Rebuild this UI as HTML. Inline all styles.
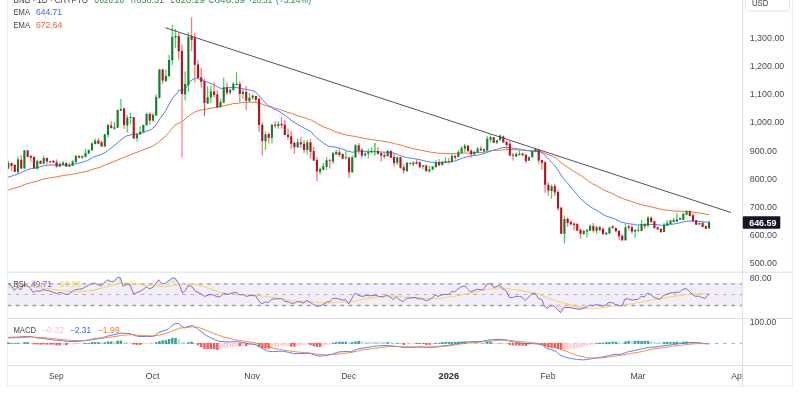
<!DOCTYPE html>
<html><head><meta charset="utf-8"><title>BNB chart</title>
<style>html,body{margin:0;padding:0;background:#fff;width:800px;height:400px;overflow:hidden}</style>
</head><body>
<svg width="800" height="400" viewBox="0 0 800 400" style="position:absolute;left:0;top:0;filter:blur(0.3px);font-family:'Liberation Sans',sans-serif">
<rect x="0" y="0" width="800" height="400" fill="#fff"/>
<rect x="8" y="283.2" width="734.5" height="23" fill="#f1eefa"/>
<path d="M7.5,0V386.5" stroke="#ebecf1" stroke-width="1" fill="none"/>
<path d="M7.5,386H792.5" stroke="#ebecf1" stroke-width="1" fill="none"/>
<path d="M792.3,0V386.5" stroke="#ebecf1" stroke-width="1" fill="none"/>
<path d="M742.6,0V386" stroke="#dcdfeb" stroke-width="1" fill="none"/>
<path d="M8,272.2H792" stroke="#dcdfeb" stroke-width="1" fill="none"/>
<path d="M8,318.5H792" stroke="#dcdfeb" stroke-width="1" fill="none"/>
<path d="M8,365.5H792" stroke="#dcdfeb" stroke-width="1" fill="none"/>
<path d="M8,283.9H742" stroke="#9a9aa0" stroke-width="1.4" stroke-dasharray="3.6 4.72" stroke-dashoffset="0.45" fill="none"/>
<path d="M8,294.5H742" stroke="#b0b0b6" stroke-width="1.0" stroke-dasharray="3.6 4.72" stroke-dashoffset="0.45" fill="none"/>
<path d="M8,305.5H742" stroke="#9a9aa0" stroke-width="1.4" stroke-dasharray="3.6 4.72" stroke-dashoffset="0.45" fill="none"/>
<path d="M8,343.4H742" stroke="#a5a5aa" stroke-width="0.9" stroke-dasharray="3.6 4.72" stroke-dashoffset="0.45" fill="none"/>
<path d="M91.50,283.9 L91.50,283.79 L91.75,283.67 L92.00,283.58 L92.25,283.52 L92.50,283.46 L92.75,283.40 L93.00,283.34 L93.25,283.28 L93.50,283.22 L93.75,283.16 L94.00,283.10 L94.25,283.04 L94.50,283.04 L94.75,283.15 L95.00,283.26 L95.25,283.37 L95.50,283.48 L95.75,283.59 L96.00,283.70 L96.25,283.81 L96.25,283.9Z" fill="#dcf1de"/>
<path d="M103.50,283.9 L103.50,283.75 L103.75,283.50 L104.00,283.25 L104.25,283.00 L104.50,282.75 L104.75,282.50 L105.00,282.25 L105.25,282.00 L105.50,281.75 L105.75,281.50 L106.00,281.25 L106.25,281.00 L106.50,280.75 L106.75,280.50 L107.00,280.25 L107.25,280.00 L107.50,279.75 L107.75,279.88 L108.00,280.02 L108.25,280.15 L108.50,280.28 L108.75,280.42 L109.00,280.55 L109.25,280.68 L109.50,280.81 L109.75,280.95 L110.00,281.08 L110.25,281.21 L110.50,281.35 L110.75,281.40 L111.00,281.40 L111.25,281.40 L111.50,281.40 L111.75,281.40 L112.00,281.40 L112.25,281.40 L112.50,281.40 L112.75,281.40 L113.00,281.40 L113.25,281.40 L113.50,281.40 L113.75,281.40 L114.00,281.13 L114.25,280.86 L114.50,280.59 L114.75,280.31 L115.00,280.04 L115.25,279.77 L115.50,279.50 L115.75,279.23 L116.00,278.96 L116.25,278.69 L116.50,278.41 L116.75,278.14 L117.00,277.87 L117.25,277.60 L117.50,277.57 L117.75,277.54 L118.00,277.50 L118.25,277.47 L118.50,277.44 L118.75,277.41 L119.00,277.38 L119.25,277.35 L119.50,277.31 L119.75,277.28 L120.00,277.25 L120.25,277.99 L120.50,278.73 L120.75,279.46 L121.00,280.20 L121.25,280.94 L121.50,281.68 L121.75,282.42 L122.00,283.15 L122.25,283.89 L122.25,283.9Z" fill="#dcf1de"/>
<path d="M155.75,283.9 L155.75,283.73 L156.00,283.40 L156.25,283.07 L156.50,282.74 L156.75,282.40 L157.00,282.07 L157.25,281.74 L157.50,281.41 L157.75,281.08 L158.00,280.75 L158.25,280.41 L158.50,280.08 L158.75,279.75 L159.00,280.08 L159.25,280.41 L159.50,280.74 L159.75,281.07 L160.00,281.40 L160.25,281.73 L160.50,282.06 L160.75,282.38 L161.00,282.71 L161.25,283.04 L161.50,283.37 L161.75,283.70 L162.00,283.88 L162.25,283.81 L162.50,283.75 L162.75,283.69 L163.00,283.63 L163.25,283.57 L163.50,283.51 L163.75,283.45 L164.00,283.39 L164.25,283.33 L164.50,283.27 L164.75,283.21 L165.00,283.15 L165.25,283.09 L165.50,283.02 L165.75,282.89 L166.00,282.70 L166.25,282.51 L166.50,282.32 L166.75,282.13 L167.00,281.94 L167.25,281.76 L167.50,281.57 L167.75,281.38 L168.00,281.19 L168.25,281.00 L168.50,280.81 L168.75,280.62 L169.00,280.44 L169.25,280.25 L169.50,280.06 L169.75,279.87 L170.00,279.68 L170.25,279.49 L170.50,279.31 L170.75,279.12 L171.00,278.93 L171.25,278.74 L171.50,278.55 L171.75,278.36 L172.00,278.24 L172.25,278.22 L172.50,278.20 L172.75,278.18 L173.00,278.16 L173.25,278.14 L173.50,278.12 L173.75,278.10 L174.00,278.08 L174.25,278.06 L174.50,278.04 L174.75,278.02 L175.00,278.00 L175.25,278.37 L175.50,278.74 L175.75,279.11 L176.00,279.48 L176.25,279.84 L176.50,280.21 L176.75,280.58 L177.00,280.95 L177.25,281.32 L177.50,281.69 L177.75,282.06 L178.00,282.42 L178.25,282.79 L178.50,283.16 L178.75,283.53 L178.75,283.9Z" fill="#dcf1de"/>
<path d="M488.75,283.9 L488.75,283.88 L489.00,283.82 L489.25,283.77 L489.50,283.72 L489.75,283.67 L490.00,283.62 L490.25,283.57 L490.50,283.52 L490.75,283.70 L490.75,283.9Z" fill="#dcf1de"/>
<path d="M315.50,305.5 L315.50,305.61 L315.75,305.75 L316.00,305.89 L316.25,306.03 L316.50,306.17 L316.75,306.32 L317.00,306.38 L317.25,306.33 L317.50,306.27 L317.75,306.22 L318.00,306.17 L318.25,306.12 L318.50,306.06 L318.75,306.01 L319.00,305.96 L319.25,305.91 L319.50,305.85 L319.75,305.80 L320.00,305.75 L320.25,305.67 L320.50,305.59 L320.75,305.51 L320.75,305.5Z" fill="#fcdcde"/>
<path d="M544.25,305.5 L544.25,305.99 L544.50,306.47 L544.75,306.64 L545.00,306.81 L545.25,306.98 L545.50,307.15 L545.75,307.31 L546.00,307.48 L546.25,307.65 L546.50,307.82 L546.75,307.99 L547.00,308.16 L547.25,308.33 L547.50,308.50 L547.75,308.26 L548.00,308.02 L548.25,307.77 L548.50,307.53 L548.75,307.29 L549.00,307.05 L549.25,306.81 L549.50,306.56 L549.75,306.32 L550.00,306.08 L550.25,305.84 L550.50,305.60 L550.75,305.52 L551.00,305.56 L551.25,305.60 L551.50,305.64 L551.75,305.68 L552.00,305.72 L552.25,305.76 L552.50,305.80 L552.75,305.84 L553.00,305.88 L553.25,305.92 L553.50,305.96 L553.75,306.00 L554.00,306.23 L554.25,306.47 L554.50,306.70 L554.75,306.93 L555.00,307.17 L555.25,307.40 L555.50,307.63 L555.75,307.87 L556.00,308.10 L556.25,308.33 L556.50,308.57 L556.75,308.80 L557.00,309.03 L557.25,309.27 L557.50,309.50 L557.75,309.75 L558.00,310.00 L558.25,310.25 L558.50,310.50 L558.75,310.75 L559.00,311.00 L559.25,311.25 L559.50,311.50 L559.75,311.75 L560.00,312.00 L560.25,312.25 L560.50,312.50 L560.75,312.36 L561.00,311.97 L561.25,311.57 L561.50,311.17 L561.75,310.77 L562.00,310.38 L562.25,309.98 L562.50,309.58 L562.75,309.19 L563.00,308.79 L563.25,308.39 L563.50,308.00 L563.75,307.60 L564.00,307.60 L564.25,307.60 L564.50,307.60 L564.75,307.60 L565.00,307.60 L565.25,307.60 L565.50,307.60 L565.75,307.60 L566.00,307.60 L566.25,307.60 L566.50,307.60 L566.75,307.60 L567.00,307.60 L567.25,307.60 L567.50,307.60 L567.75,307.60 L568.00,307.60 L568.25,307.60 L568.50,307.60 L568.75,307.60 L569.00,307.60 L569.25,307.60 L569.50,307.60 L569.75,307.60 L570.00,307.60 L570.25,307.65 L570.50,307.70 L570.75,307.76 L571.00,307.81 L571.25,307.86 L571.50,307.91 L571.75,307.96 L572.00,308.02 L572.25,308.07 L572.50,308.12 L572.75,308.17 L573.00,308.22 L573.25,308.28 L573.50,308.33 L573.75,308.38 L574.00,308.43 L574.25,308.48 L574.50,308.54 L574.75,308.59 L575.00,308.64 L575.25,308.69 L575.50,308.74 L575.75,308.80 L576.00,308.85 L576.25,308.90 L576.50,308.92 L576.75,308.95 L577.00,308.97 L577.25,308.99 L577.50,309.02 L577.75,309.04 L578.00,309.06 L578.25,309.09 L578.50,309.11 L578.75,309.13 L579.00,309.16 L579.25,309.18 L579.50,309.20 L579.75,309.23 L580.00,309.25 L580.25,309.17 L580.50,309.09 L580.75,309.01 L581.00,308.93 L581.25,308.85 L581.50,308.77 L581.75,308.69 L582.00,308.60 L582.25,308.52 L582.50,308.44 L582.75,308.36 L583.00,308.28 L583.25,308.20 L583.50,308.12 L583.75,308.04 L584.00,307.96 L584.25,307.88 L584.50,307.81 L584.75,307.73 L585.00,307.65 L585.25,307.57 L585.50,307.49 L585.75,307.41 L586.00,307.33 L586.25,307.25 L586.50,307.08 L586.75,306.91 L587.00,306.74 L587.25,306.57 L587.50,306.40 L587.75,306.23 L588.00,306.06 L588.25,305.88 L588.50,305.71 L588.75,305.54 L588.75,305.5Z" fill="#fcdcde"/>
<path d="M591.00,305.5 L591.00,305.56 L591.25,305.64 L591.50,305.71 L591.75,305.78 L592.00,305.85 L592.25,305.93 L592.50,306.00 L592.75,305.90 L593.00,305.80 L593.25,305.70 L593.50,305.60 L593.50,305.5Z" fill="#fcdcde"/>
<path d="M600.25,305.5 L600.25,305.55 L600.50,305.60 L600.75,305.65 L601.00,305.70 L601.25,305.75 L601.50,305.80 L601.75,305.85 L602.00,305.90 L602.25,305.95 L602.50,306.00 L602.75,305.93 L603.00,305.85 L603.25,305.78 L603.50,305.71 L603.75,305.64 L604.00,305.56 L604.00,305.5Z" fill="#fcdcde"/>
<path d="M619.00,305.5 L619.00,305.54 L619.25,305.58 L619.50,305.62 L619.75,305.66 L620.00,305.70 L620.25,305.74 L620.50,305.78 L620.75,305.82 L621.00,305.86 L621.25,305.90 L621.50,305.94 L621.75,305.98 L622.00,305.77 L622.00,305.5Z" fill="#fcdcde"/>
<path d="M8.00,190.00 L20.00,186.50 L23.75,184.75 L31.25,182.50 L37.50,181.00 L43.75,179.00 L50.00,177.75 L56.25,176.90 L62.50,175.60 L68.75,174.75 L75.00,173.75 L81.25,172.50 L87.50,171.00 L93.75,169.00 L100.00,167.25 L110.00,163.00 L120.00,159.00 L130.00,155.00 L140.00,151.00 L152.50,146.25 L157.50,143.00 L165.00,136.90 L170.00,131.00 L175.00,125.00 L182.50,121.50 L186.00,118.00 L190.00,115.00 L195.00,111.90 L200.00,110.25 L205.00,109.40 L210.00,108.50 L215.00,107.50 L221.25,106.25 L227.50,105.00 L233.75,103.50 L236.25,103.50 L242.50,102.50 L248.75,102.25 L255.00,102.25 L261.25,103.75 L267.50,106.25 L273.75,107.75 L280.00,109.40 L286.25,111.90 L292.50,113.75 L298.75,116.00 L305.00,118.10 L311.25,120.00 L317.50,123.75 L323.75,126.90 L330.00,129.40 L336.00,132.00 L346.25,135.00 L353.75,136.25 L360.00,137.50 L366.25,138.75 L372.50,139.75 L378.75,140.60 L385.00,141.50 L391.25,142.75 L397.50,144.40 L400.00,144.75 L406.25,146.90 L412.50,148.50 L418.75,149.75 L425.00,151.00 L431.25,152.25 L437.50,153.10 L443.75,153.50 L450.00,153.75 L456.25,153.50 L462.50,153.10 L468.75,153.10 L475.00,152.75 L481.25,152.50 L487.50,151.50 L493.75,150.25 L496.25,150.60 L502.50,150.00 L508.75,149.40 L515.00,149.75 L521.25,150.00 L527.50,150.60 L533.75,151.00 L540.00,151.25 L546.25,154.00 L552.50,156.25 L556.25,158.10 L560.00,161.90 L564.40,165.00 L573.75,171.25 L580.00,175.00 L586.25,179.40 L592.50,183.75 L598.75,186.90 L605.00,190.60 L611.25,193.10 L617.50,196.25 L623.75,199.00 L630.00,201.00 L636.25,203.10 L642.50,205.00 L648.75,206.25 L655.00,207.75 L661.25,209.40 L667.50,210.25 L673.75,211.00 L680.00,211.25 L686.25,211.25 L692.50,211.90 L698.75,213.10 L705.00,214.00 L709.00,214.75" stroke="#f0763a" stroke-width="1.0" fill="none" stroke-linejoin="round"/>
<path d="M8.00,177.25 L18.75,173.75 L25.00,170.60 L31.25,168.50 L37.50,167.75 L43.75,165.75 L50.00,165.00 L56.25,165.00 L62.50,165.00 L68.75,165.25 L75.00,164.00 L81.25,162.50 L87.50,160.60 L93.75,156.90 L100.00,155.00 L106.00,152.00 L115.00,145.00 L120.00,140.60 L126.25,136.00 L132.50,134.40 L138.75,134.00 L145.00,131.90 L151.25,129.40 L155.00,126.25 L160.00,118.75 L165.00,111.90 L170.00,102.50 L175.00,95.00 L177.50,93.10 L178.75,90.00 L182.50,90.60 L186.25,87.50 L190.00,81.25 L193.75,78.75 L197.50,78.50 L202.50,80.00 L207.50,82.25 L212.50,84.00 L217.50,86.90 L221.25,88.50 L227.50,87.75 L233.75,87.50 L236.25,87.50 L242.50,88.75 L248.75,89.75 L255.00,91.50 L258.75,95.00 L262.50,100.00 L267.50,105.00 L273.75,108.75 L280.00,111.90 L286.25,116.25 L292.50,121.25 L298.75,125.00 L305.00,128.50 L311.25,131.90 L313.75,135.00 L316.25,137.50 L322.50,142.50 L328.75,146.25 L335.00,147.10 L341.25,148.50 L347.50,151.00 L352.50,152.25 L357.50,151.25 L362.50,151.25 L372.50,151.60 L378.75,151.90 L385.00,152.25 L391.25,152.50 L397.50,154.40 L400.00,155.60 L406.25,157.50 L412.50,158.50 L418.75,159.40 L425.00,161.00 L431.25,162.25 L437.50,162.50 L443.75,162.50 L450.00,162.25 L456.25,160.60 L462.50,158.10 L468.75,156.25 L475.00,155.60 L481.25,154.40 L487.50,152.25 L493.75,150.00 L496.25,149.40 L502.50,147.50 L508.75,147.50 L515.00,148.50 L521.25,149.40 L527.50,150.60 L533.75,151.25 L540.00,151.90 L543.75,154.00 L547.50,158.10 L551.25,161.90 L554.40,165.00 L558.75,171.25 L562.50,177.50 L567.50,183.10 L573.75,190.60 L580.00,198.10 L586.25,203.75 L592.50,208.10 L598.75,211.60 L605.00,215.60 L610.00,217.25 L615.00,219.00 L621.25,222.25 L627.50,223.50 L633.75,224.40 L636.25,225.00 L642.50,224.75 L648.75,224.40 L655.00,224.40 L661.25,225.25 L667.50,225.00 L673.75,224.00 L680.00,222.75 L686.25,221.25 L692.50,221.00 L698.75,221.50 L705.00,221.90 L709.00,222.40" stroke="#4f7ff7" stroke-width="1.0" fill="none" stroke-linejoin="round"/>
<clipPath id="cc"><rect x="8" y="0" width="734" height="272"/></clipPath><g clip-path="url(#cc)">
<path d="M8.36,161.00V169.00" stroke="#3ad85a" stroke-width="1.25"/>
<rect x="7.31" y="163.10" width="2.1" height="5.40" fill="#1a7a2f"/>
<path d="M11.57,162.50V171.25" stroke="#f57a7d" stroke-width="1.3"/>
<rect x="10.52" y="163.10" width="2.1" height="2.90" fill="#b6121c"/>
<path d="M14.79,164.00V172.25" stroke="#f57a7d" stroke-width="1.3"/>
<rect x="13.74" y="165.00" width="2.1" height="6.90" fill="#b6121c"/>
<path d="M18.00,156.50V173.50" stroke="#3ad85a" stroke-width="1.25"/>
<rect x="16.95" y="159.40" width="2.1" height="12.85" fill="#1a7a2f"/>
<path d="M21.22,155.00V168.75" stroke="#f57a7d" stroke-width="1.3"/>
<rect x="20.17" y="159.75" width="2.1" height="8.75" fill="#b6121c"/>
<path d="M24.43,150.00V168.75" stroke="#3ad85a" stroke-width="1.25"/>
<rect x="23.38" y="150.40" width="2.1" height="18.10" fill="#1a7a2f"/>
<path d="M27.65,150.00V157.25" stroke="#f57a7d" stroke-width="1.3"/>
<rect x="26.60" y="150.40" width="2.1" height="6.50" fill="#b6121c"/>
<path d="M30.86,155.00V161.50" stroke="#f57a7d" stroke-width="1.3"/>
<rect x="29.81" y="156.00" width="2.1" height="1.75" fill="#b6121c"/>
<path d="M34.07,156.50V169.00" stroke="#f57a7d" stroke-width="1.3"/>
<rect x="33.02" y="156.90" width="2.1" height="11.60" fill="#b6121c"/>
<path d="M37.29,159.40V170.00" stroke="#3ad85a" stroke-width="1.25"/>
<rect x="36.24" y="161.00" width="2.1" height="7.50" fill="#1a7a2f"/>
<path d="M40.50,160.00V164.00" stroke="#f57a7d" stroke-width="1.3"/>
<rect x="39.45" y="161.00" width="2.1" height="2.75" fill="#b6121c"/>
<path d="M43.72,155.60V164.00" stroke="#3ad85a" stroke-width="1.25"/>
<rect x="42.67" y="158.10" width="2.1" height="5.65" fill="#1a7a2f"/>
<path d="M46.93,157.25V164.40" stroke="#f57a7d" stroke-width="1.3"/>
<rect x="45.88" y="158.10" width="2.1" height="3.40" fill="#b6121c"/>
<path d="M50.14,161.00V163.75" stroke="#f57a7d" stroke-width="1.3"/>
<rect x="49.09" y="161.18" width="2.1" height="0.90" fill="#b6121c"/>
<path d="M53.36,159.75V163.10" stroke="#f57a7d" stroke-width="1.3"/>
<rect x="52.31" y="161.00" width="2.1" height="1.50" fill="#b6121c"/>
<path d="M56.57,159.40V167.75" stroke="#f57a7d" stroke-width="1.3"/>
<rect x="55.52" y="162.25" width="2.1" height="4.25" fill="#b6121c"/>
<path d="M59.79,162.25V166.90" stroke="#3ad85a" stroke-width="1.25"/>
<rect x="58.74" y="164.00" width="2.1" height="2.50" fill="#1a7a2f"/>
<path d="M63.00,161.25V165.00" stroke="#3ad85a" stroke-width="1.25"/>
<rect x="61.95" y="162.50" width="2.1" height="2.25" fill="#1a7a2f"/>
<path d="M66.22,162.25V167.00" stroke="#f57a7d" stroke-width="1.3"/>
<rect x="65.17" y="163.00" width="2.1" height="3.50" fill="#b6121c"/>
<path d="M69.43,162.75V166.90" stroke="#3ad85a" stroke-width="1.25"/>
<rect x="68.38" y="164.75" width="2.1" height="1.75" fill="#1a7a2f"/>
<path d="M72.64,160.25V166.00" stroke="#3ad85a" stroke-width="1.25"/>
<rect x="71.59" y="161.50" width="2.1" height="4.10" fill="#1a7a2f"/>
<path d="M75.86,155.00V162.75" stroke="#3ad85a" stroke-width="1.25"/>
<rect x="74.81" y="156.00" width="2.1" height="6.25" fill="#1a7a2f"/>
<path d="M79.07,155.25V158.75" stroke="#f57a7d" stroke-width="1.3"/>
<rect x="78.02" y="156.00" width="2.1" height="1.50" fill="#b6121c"/>
<path d="M82.29,155.60V158.75" stroke="#3ad85a" stroke-width="1.25"/>
<rect x="81.24" y="156.25" width="2.1" height="1.50" fill="#1a7a2f"/>
<path d="M85.50,149.00V157.25" stroke="#3ad85a" stroke-width="1.25"/>
<rect x="84.45" y="153.10" width="2.1" height="3.80" fill="#1a7a2f"/>
<path d="M88.72,149.40V153.75" stroke="#3ad85a" stroke-width="1.25"/>
<rect x="87.67" y="150.00" width="2.1" height="3.50" fill="#1a7a2f"/>
<path d="M91.93,142.25V150.60" stroke="#3ad85a" stroke-width="1.25"/>
<rect x="90.88" y="143.50" width="2.1" height="6.75" fill="#1a7a2f"/>
<path d="M95.14,138.50V144.40" stroke="#3ad85a" stroke-width="1.25"/>
<rect x="94.09" y="140.60" width="2.1" height="3.40" fill="#1a7a2f"/>
<path d="M98.36,138.10V144.00" stroke="#f57a7d" stroke-width="1.3"/>
<rect x="97.31" y="140.60" width="2.1" height="3.15" fill="#b6121c"/>
<path d="M101.57,140.60V147.00" stroke="#f57a7d" stroke-width="1.3"/>
<rect x="100.52" y="142.25" width="2.1" height="4.25" fill="#b6121c"/>
<path d="M104.79,134.00V147.00" stroke="#3ad85a" stroke-width="1.25"/>
<rect x="103.74" y="134.40" width="2.1" height="12.10" fill="#1a7a2f"/>
<path d="M108.00,124.00V137.50" stroke="#3ad85a" stroke-width="1.25"/>
<rect x="106.95" y="125.00" width="2.1" height="10.00" fill="#1a7a2f"/>
<path d="M111.21,121.25V128.50" stroke="#f57a7d" stroke-width="1.3"/>
<rect x="110.16" y="125.40" width="2.1" height="2.70" fill="#b6121c"/>
<path d="M114.43,121.90V130.00" stroke="#3ad85a" stroke-width="1.25"/>
<rect x="113.38" y="127.25" width="2.1" height="1.50" fill="#1a7a2f"/>
<path d="M117.64,109.75V128.10" stroke="#3ad85a" stroke-width="1.25"/>
<rect x="116.59" y="110.00" width="2.1" height="17.75" fill="#1a7a2f"/>
<path d="M120.86,99.00V111.00" stroke="#3ad85a" stroke-width="1.25"/>
<rect x="119.81" y="109.00" width="2.1" height="1.60" fill="#1a7a2f"/>
<path d="M124.07,107.75V129.00" stroke="#f57a7d" stroke-width="1.3"/>
<rect x="123.02" y="108.50" width="2.1" height="16.50" fill="#b6121c"/>
<path d="M127.29,115.00V132.50" stroke="#3ad85a" stroke-width="1.25"/>
<rect x="126.24" y="117.75" width="2.1" height="7.50" fill="#1a7a2f"/>
<path d="M130.50,112.75V124.40" stroke="#3ad85a" stroke-width="1.25"/>
<rect x="129.45" y="117.12" width="2.1" height="0.90" fill="#1a7a2f"/>
<path d="M133.71,116.90V139.00" stroke="#f57a7d" stroke-width="1.3"/>
<rect x="132.66" y="117.25" width="2.1" height="21.25" fill="#b6121c"/>
<path d="M136.93,132.25V141.25" stroke="#3ad85a" stroke-width="1.25"/>
<rect x="135.88" y="134.00" width="2.1" height="4.10" fill="#1a7a2f"/>
<path d="M140.14,126.25V134.75" stroke="#3ad85a" stroke-width="1.25"/>
<rect x="139.09" y="131.90" width="2.1" height="2.50" fill="#1a7a2f"/>
<path d="M143.36,124.75V132.50" stroke="#3ad85a" stroke-width="1.25"/>
<rect x="142.31" y="125.00" width="2.1" height="7.25" fill="#1a7a2f"/>
<path d="M146.57,112.50V125.60" stroke="#3ad85a" stroke-width="1.25"/>
<rect x="145.52" y="114.00" width="2.1" height="11.25" fill="#1a7a2f"/>
<path d="M149.78,112.50V124.75" stroke="#f57a7d" stroke-width="1.3"/>
<rect x="148.73" y="113.75" width="2.1" height="6.85" fill="#b6121c"/>
<path d="M153.00,112.75V121.50" stroke="#3ad85a" stroke-width="1.25"/>
<rect x="151.95" y="115.00" width="2.1" height="5.60" fill="#1a7a2f"/>
<path d="M156.21,94.40V116.00" stroke="#3ad85a" stroke-width="1.25"/>
<rect x="155.16" y="96.90" width="2.1" height="18.70" fill="#1a7a2f"/>
<path d="M159.43,69.00V98.75" stroke="#3ad85a" stroke-width="1.25"/>
<rect x="158.38" y="69.40" width="2.1" height="28.35" fill="#1a7a2f"/>
<path d="M162.64,69.00V83.75" stroke="#f57a7d" stroke-width="1.3"/>
<rect x="161.59" y="69.40" width="2.1" height="11.20" fill="#b6121c"/>
<path d="M165.86,69.40V82.25" stroke="#3ad85a" stroke-width="1.25"/>
<rect x="164.81" y="76.00" width="2.1" height="5.00" fill="#1a7a2f"/>
<path d="M169.07,55.00V76.75" stroke="#3ad85a" stroke-width="1.25"/>
<rect x="168.02" y="60.00" width="2.1" height="16.25" fill="#1a7a2f"/>
<path d="M172.28,25.00V65.00" stroke="#3ad85a" stroke-width="1.25"/>
<rect x="171.23" y="36.90" width="2.1" height="23.35" fill="#1a7a2f"/>
<path d="M175.50,28.75V48.00" stroke="#3ad85a" stroke-width="1.25"/>
<rect x="174.45" y="36.00" width="2.1" height="1.50" fill="#1a7a2f"/>
<path d="M178.71,33.00V59.40" stroke="#f57a7d" stroke-width="1.3"/>
<rect x="177.66" y="36.00" width="2.1" height="15.25" fill="#b6121c"/>
<path d="M181.93,44.75V50.60" stroke="#f57a7d" stroke-width="1.3"/>
<path d="M181.93,94.00V157.50" stroke="#f7a3a6" stroke-width="1.7"/>
<rect x="180.88" y="50.60" width="2.1" height="43.40" fill="#b6121c"/>
<path d="M185.14,71.25V100.60" stroke="#3ad85a" stroke-width="1.25"/>
<rect x="184.09" y="84.00" width="2.1" height="10.40" fill="#1a7a2f"/>
<path d="M188.36,32.25V91.90" stroke="#3ad85a" stroke-width="1.25"/>
<rect x="187.31" y="36.90" width="2.1" height="48.10" fill="#1a7a2f"/>
<path d="M191.57,17.25V51.25" stroke="#f57a7d" stroke-width="1.3"/>
<rect x="190.52" y="36.00" width="2.1" height="3.75" fill="#b6121c"/>
<path d="M194.78,33.00V82.50" stroke="#f57a7d" stroke-width="1.3"/>
<rect x="193.73" y="37.50" width="2.1" height="27.25" fill="#b6121c"/>
<path d="M198.00,60.00V78.50" stroke="#f57a7d" stroke-width="1.3"/>
<rect x="196.95" y="64.40" width="2.1" height="13.70" fill="#b6121c"/>
<path d="M201.21,68.00V87.50" stroke="#f57a7d" stroke-width="1.3"/>
<rect x="200.16" y="77.25" width="2.1" height="4.65" fill="#b6121c"/>
<path d="M204.43,78.50V81.25" stroke="#f57a7d" stroke-width="1.3"/>
<path d="M204.43,103.10V116.00" stroke="#c8343c" stroke-width="0.9"/>
<rect x="203.38" y="81.25" width="2.1" height="21.85" fill="#b6121c"/>
<path d="M207.64,86.25V103.75" stroke="#3ad85a" stroke-width="1.25"/>
<rect x="206.59" y="97.25" width="2.1" height="6.25" fill="#1a7a2f"/>
<path d="M210.85,85.60V103.00" stroke="#3ad85a" stroke-width="1.25"/>
<rect x="209.80" y="91.50" width="2.1" height="6.00" fill="#1a7a2f"/>
<path d="M214.07,82.50V97.25" stroke="#f57a7d" stroke-width="1.3"/>
<rect x="213.02" y="91.50" width="2.1" height="3.50" fill="#b6121c"/>
<path d="M217.28,90.60V108.00" stroke="#f57a7d" stroke-width="1.3"/>
<rect x="216.23" y="94.40" width="2.1" height="13.10" fill="#b6121c"/>
<path d="M220.50,98.75V107.50" stroke="#3ad85a" stroke-width="1.25"/>
<rect x="219.45" y="101.90" width="2.1" height="5.35" fill="#1a7a2f"/>
<path d="M223.71,77.50V103.00" stroke="#3ad85a" stroke-width="1.25"/>
<rect x="222.66" y="87.25" width="2.1" height="15.25" fill="#1a7a2f"/>
<path d="M226.93,82.50V95.00" stroke="#f57a7d" stroke-width="1.3"/>
<rect x="225.88" y="87.25" width="2.1" height="5.50" fill="#b6121c"/>
<path d="M230.14,88.75V94.40" stroke="#3ad85a" stroke-width="1.25"/>
<rect x="229.09" y="89.75" width="2.1" height="3.00" fill="#1a7a2f"/>
<path d="M233.35,81.90V90.60" stroke="#3ad85a" stroke-width="1.25"/>
<rect x="232.30" y="83.75" width="2.1" height="6.50" fill="#1a7a2f"/>
<path d="M236.57,71.90V85.60" stroke="#3ad85a" stroke-width="1.25"/>
<rect x="235.52" y="83.75" width="2.1" height="1.25" fill="#1a7a2f"/>
<path d="M239.78,81.00V101.90" stroke="#f57a7d" stroke-width="1.3"/>
<rect x="238.73" y="84.00" width="2.1" height="10.00" fill="#b6121c"/>
<path d="M243.00,88.75V98.75" stroke="#3ad85a" stroke-width="1.25"/>
<rect x="241.95" y="91.90" width="2.1" height="2.10" fill="#1a7a2f"/>
<path d="M246.21,86.00V110.25" stroke="#f57a7d" stroke-width="1.3"/>
<rect x="245.16" y="91.90" width="2.1" height="8.70" fill="#b6121c"/>
<path d="M249.43,93.10V102.75" stroke="#3ad85a" stroke-width="1.25"/>
<rect x="248.38" y="97.75" width="2.1" height="3.25" fill="#1a7a2f"/>
<path d="M252.64,94.75V99.75" stroke="#3ad85a" stroke-width="1.25"/>
<rect x="251.59" y="95.60" width="2.1" height="2.15" fill="#1a7a2f"/>
<path d="M255.85,95.60V102.25" stroke="#f57a7d" stroke-width="1.3"/>
<rect x="254.80" y="96.00" width="2.1" height="3.75" fill="#b6121c"/>
<path d="M259.07,98.10V131.90" stroke="#f57a7d" stroke-width="1.3"/>
<rect x="258.02" y="99.00" width="2.1" height="26.00" fill="#b6121c"/>
<path d="M262.28,122.25V155.60" stroke="#f57a7d" stroke-width="1.3"/>
<rect x="261.23" y="124.75" width="2.1" height="16.25" fill="#b6121c"/>
<path d="M265.50,131.50V150.25" stroke="#3ad85a" stroke-width="1.25"/>
<rect x="264.45" y="134.40" width="2.1" height="6.85" fill="#1a7a2f"/>
<path d="M268.71,132.50V143.50" stroke="#f57a7d" stroke-width="1.3"/>
<rect x="267.66" y="134.00" width="2.1" height="3.75" fill="#b6121c"/>
<path d="M271.92,124.00V143.50" stroke="#3ad85a" stroke-width="1.25"/>
<rect x="270.87" y="124.75" width="2.1" height="13.00" fill="#1a7a2f"/>
<path d="M275.14,121.25V128.50" stroke="#f57a7d" stroke-width="1.3"/>
<rect x="274.09" y="124.75" width="2.1" height="1.25" fill="#b6121c"/>
<path d="M278.35,121.25V128.75" stroke="#3ad85a" stroke-width="1.25"/>
<rect x="277.30" y="124.00" width="2.1" height="2.00" fill="#1a7a2f"/>
<path d="M281.57,116.90V128.75" stroke="#f57a7d" stroke-width="1.3"/>
<rect x="280.52" y="124.00" width="2.1" height="1.25" fill="#b6121c"/>
<path d="M284.78,120.00V135.25" stroke="#f57a7d" stroke-width="1.3"/>
<rect x="283.73" y="124.75" width="2.1" height="10.25" fill="#b6121c"/>
<path d="M288.00,128.75V139.75" stroke="#f57a7d" stroke-width="1.3"/>
<rect x="286.95" y="134.75" width="2.1" height="2.15" fill="#b6121c"/>
<path d="M291.21,131.00V148.75" stroke="#f57a7d" stroke-width="1.3"/>
<rect x="290.16" y="136.25" width="2.1" height="7.50" fill="#b6121c"/>
<path d="M294.42,141.90V153.75" stroke="#f57a7d" stroke-width="1.3"/>
<rect x="293.37" y="142.75" width="2.1" height="4.50" fill="#b6121c"/>
<path d="M297.64,138.50V147.75" stroke="#3ad85a" stroke-width="1.25"/>
<rect x="296.59" y="142.25" width="2.1" height="5.00" fill="#1a7a2f"/>
<path d="M300.85,136.90V148.00" stroke="#f57a7d" stroke-width="1.3"/>
<rect x="299.80" y="142.25" width="2.1" height="2.15" fill="#b6121c"/>
<path d="M304.07,140.00V153.00" stroke="#f57a7d" stroke-width="1.3"/>
<rect x="303.02" y="143.75" width="2.1" height="6.25" fill="#b6121c"/>
<path d="M307.28,140.00V154.75" stroke="#3ad85a" stroke-width="1.25"/>
<rect x="306.23" y="142.25" width="2.1" height="7.75" fill="#1a7a2f"/>
<path d="M310.49,139.00V158.50" stroke="#f57a7d" stroke-width="1.3"/>
<rect x="309.44" y="142.25" width="2.1" height="9.50" fill="#b6121c"/>
<path d="M313.71,146.50V161.00" stroke="#f57a7d" stroke-width="1.3"/>
<rect x="312.66" y="151.00" width="2.1" height="9.60" fill="#b6121c"/>
<path d="M316.92,157.25V181.25" stroke="#f57a7d" stroke-width="1.3"/>
<rect x="315.87" y="160.00" width="2.1" height="11.50" fill="#b6121c"/>
<path d="M320.14,167.25V174.40" stroke="#3ad85a" stroke-width="1.25"/>
<rect x="319.09" y="169.00" width="2.1" height="2.90" fill="#1a7a2f"/>
<path d="M323.35,163.00V170.00" stroke="#3ad85a" stroke-width="1.25"/>
<rect x="322.30" y="166.25" width="2.1" height="3.50" fill="#1a7a2f"/>
<path d="M326.57,157.25V169.75" stroke="#3ad85a" stroke-width="1.25"/>
<rect x="325.52" y="160.25" width="2.1" height="6.65" fill="#1a7a2f"/>
<path d="M329.78,159.40V168.75" stroke="#f57a7d" stroke-width="1.3"/>
<rect x="328.73" y="159.85" width="2.1" height="0.90" fill="#b6121c"/>
<path d="M332.99,151.90V163.75" stroke="#3ad85a" stroke-width="1.25"/>
<rect x="331.94" y="153.10" width="2.1" height="8.40" fill="#1a7a2f"/>
<path d="M336.21,149.75V155.00" stroke="#3ad85a" stroke-width="1.25"/>
<rect x="335.16" y="151.90" width="2.1" height="2.50" fill="#1a7a2f"/>
<path d="M339.42,148.75V156.90" stroke="#f57a7d" stroke-width="1.3"/>
<rect x="338.37" y="152.25" width="2.1" height="2.75" fill="#b6121c"/>
<path d="M342.64,153.50V159.40" stroke="#f57a7d" stroke-width="1.3"/>
<rect x="341.59" y="154.00" width="2.1" height="4.75" fill="#b6121c"/>
<path d="M345.85,150.00V159.40" stroke="#3ad85a" stroke-width="1.25"/>
<rect x="344.80" y="157.23" width="2.1" height="0.90" fill="#1a7a2f"/>
<path d="M349.07,157.25V178.10" stroke="#f57a7d" stroke-width="1.3"/>
<rect x="348.02" y="157.50" width="2.1" height="14.75" fill="#b6121c"/>
<path d="M352.28,155.60V172.75" stroke="#3ad85a" stroke-width="1.25"/>
<rect x="351.23" y="157.25" width="2.1" height="15.00" fill="#1a7a2f"/>
<path d="M355.49,144.00V157.75" stroke="#3ad85a" stroke-width="1.25"/>
<rect x="354.44" y="145.25" width="2.1" height="12.25" fill="#1a7a2f"/>
<path d="M358.71,143.10V153.75" stroke="#f57a7d" stroke-width="1.3"/>
<rect x="357.66" y="145.25" width="2.1" height="5.75" fill="#b6121c"/>
<path d="M361.92,148.10V158.50" stroke="#f57a7d" stroke-width="1.3"/>
<rect x="360.87" y="149.75" width="2.1" height="5.85" fill="#b6121c"/>
<path d="M365.14,151.25V156.25" stroke="#3ad85a" stroke-width="1.25"/>
<rect x="364.09" y="153.50" width="2.1" height="2.10" fill="#1a7a2f"/>
<path d="M368.35,149.00V158.50" stroke="#3ad85a" stroke-width="1.25"/>
<rect x="367.30" y="151.90" width="2.1" height="1.85" fill="#1a7a2f"/>
<path d="M371.56,147.25V153.10" stroke="#3ad85a" stroke-width="1.25"/>
<rect x="370.51" y="151.00" width="2.1" height="1.25" fill="#1a7a2f"/>
<path d="M374.78,143.10V155.60" stroke="#9fe6ad" stroke-width="2"/>
<path d="M374.78,143.10V155.60" stroke="#3ad85a" stroke-width="1.25"/>
<rect x="373.73" y="150.75" width="2.1" height="0.90" fill="#1a7a2f"/>
<path d="M377.99,146.90V154.75" stroke="#f57a7d" stroke-width="1.3"/>
<rect x="376.94" y="151.00" width="2.1" height="2.75" fill="#b6121c"/>
<path d="M381.21,152.50V161.50" stroke="#f57a7d" stroke-width="1.3"/>
<rect x="380.16" y="153.10" width="2.1" height="2.50" fill="#b6121c"/>
<path d="M384.42,152.50V158.50" stroke="#f57a7d" stroke-width="1.3"/>
<rect x="383.37" y="155.00" width="2.1" height="1.50" fill="#b6121c"/>
<path d="M387.64,149.75V156.50" stroke="#3ad85a" stroke-width="1.25"/>
<rect x="386.59" y="151.00" width="2.1" height="5.25" fill="#1a7a2f"/>
<path d="M390.85,150.25V158.10" stroke="#f57a7d" stroke-width="1.3"/>
<rect x="389.80" y="151.00" width="2.1" height="6.75" fill="#b6121c"/>
<path d="M394.06,152.50V166.50" stroke="#f57a7d" stroke-width="1.3"/>
<rect x="393.01" y="156.90" width="2.1" height="6.20" fill="#b6121c"/>
<path d="M397.28,156.50V165.00" stroke="#3ad85a" stroke-width="1.25"/>
<rect x="396.23" y="157.25" width="2.1" height="5.50" fill="#1a7a2f"/>
<path d="M400.49,156.90V168.75" stroke="#f57a7d" stroke-width="1.3"/>
<rect x="399.44" y="157.25" width="2.1" height="10.50" fill="#b6121c"/>
<path d="M403.71,164.40V173.50" stroke="#f57a7d" stroke-width="1.3"/>
<rect x="402.66" y="167.25" width="2.1" height="3.35" fill="#b6121c"/>
<path d="M406.92,161.90V172.25" stroke="#3ad85a" stroke-width="1.25"/>
<rect x="405.87" y="162.75" width="2.1" height="8.25" fill="#1a7a2f"/>
<path d="M410.13,162.50V164.40" stroke="#f57a7d" stroke-width="1.3"/>
<rect x="409.08" y="162.93" width="2.1" height="0.90" fill="#b6121c"/>
<path d="M413.35,161.25V166.25" stroke="#3ad85a" stroke-width="1.25"/>
<rect x="412.30" y="162.50" width="2.1" height="1.90" fill="#1a7a2f"/>
<path d="M416.56,158.75V164.75" stroke="#f57a7d" stroke-width="1.3"/>
<rect x="415.51" y="162.00" width="2.1" height="1.50" fill="#b6121c"/>
<path d="M419.78,161.25V167.75" stroke="#f57a7d" stroke-width="1.3"/>
<rect x="418.73" y="162.25" width="2.1" height="5.00" fill="#b6121c"/>
<path d="M422.99,165.00V169.00" stroke="#3ad85a" stroke-width="1.25"/>
<rect x="421.94" y="165.25" width="2.1" height="1.25" fill="#1a7a2f"/>
<path d="M426.21,165.00V171.50" stroke="#f57a7d" stroke-width="1.3"/>
<rect x="425.16" y="165.60" width="2.1" height="5.65" fill="#b6121c"/>
<path d="M429.42,166.00V172.75" stroke="#3ad85a" stroke-width="1.25"/>
<rect x="428.37" y="169.40" width="2.1" height="1.85" fill="#1a7a2f"/>
<path d="M432.63,166.00V170.00" stroke="#3ad85a" stroke-width="1.25"/>
<rect x="431.58" y="166.50" width="2.1" height="3.25" fill="#1a7a2f"/>
<path d="M435.85,160.00V167.50" stroke="#3ad85a" stroke-width="1.25"/>
<rect x="434.80" y="162.25" width="2.1" height="5.00" fill="#1a7a2f"/>
<path d="M439.06,159.00V166.25" stroke="#f57a7d" stroke-width="1.3"/>
<rect x="438.01" y="162.25" width="2.1" height="3.00" fill="#b6121c"/>
<path d="M442.28,161.00V165.60" stroke="#3ad85a" stroke-width="1.25"/>
<rect x="441.23" y="161.90" width="2.1" height="3.10" fill="#1a7a2f"/>
<path d="M445.49,157.25V162.75" stroke="#3ad85a" stroke-width="1.25"/>
<rect x="444.44" y="161.00" width="2.1" height="1.25" fill="#1a7a2f"/>
<path d="M448.71,158.10V163.50" stroke="#f57a7d" stroke-width="1.3"/>
<rect x="447.66" y="161.00" width="2.1" height="0.90" fill="#b6121c"/>
<path d="M451.92,153.50V162.25" stroke="#3ad85a" stroke-width="1.25"/>
<rect x="450.87" y="156.00" width="2.1" height="5.90" fill="#1a7a2f"/>
<path d="M455.13,154.75V159.40" stroke="#f57a7d" stroke-width="1.3"/>
<rect x="454.08" y="156.00" width="2.1" height="1.75" fill="#b6121c"/>
<path d="M458.35,149.75V157.25" stroke="#3ad85a" stroke-width="1.25"/>
<rect x="457.30" y="152.25" width="2.1" height="4.65" fill="#1a7a2f"/>
<path d="M461.56,146.00V153.50" stroke="#3ad85a" stroke-width="1.25"/>
<rect x="460.51" y="148.10" width="2.1" height="5.00" fill="#1a7a2f"/>
<path d="M464.78,144.00V152.25" stroke="#3ad85a" stroke-width="1.25"/>
<rect x="463.73" y="145.60" width="2.1" height="3.15" fill="#1a7a2f"/>
<path d="M467.99,145.25V151.50" stroke="#f57a7d" stroke-width="1.3"/>
<rect x="466.94" y="145.60" width="2.1" height="5.65" fill="#b6121c"/>
<path d="M471.20,149.40V157.75" stroke="#f57a7d" stroke-width="1.3"/>
<rect x="470.15" y="150.60" width="2.1" height="3.80" fill="#b6121c"/>
<path d="M474.42,151.00V154.75" stroke="#3ad85a" stroke-width="1.25"/>
<rect x="473.37" y="151.90" width="2.1" height="2.50" fill="#1a7a2f"/>
<path d="M477.63,146.90V153.10" stroke="#3ad85a" stroke-width="1.25"/>
<rect x="476.58" y="148.75" width="2.1" height="4.00" fill="#1a7a2f"/>
<path d="M480.85,146.00V151.00" stroke="#f57a7d" stroke-width="1.3"/>
<rect x="479.80" y="148.75" width="2.1" height="1.50" fill="#b6121c"/>
<path d="M484.06,148.10V152.75" stroke="#3ad85a" stroke-width="1.25"/>
<rect x="483.01" y="149.40" width="2.1" height="1.85" fill="#1a7a2f"/>
<path d="M487.28,136.00V151.00" stroke="#3ad85a" stroke-width="1.25"/>
<rect x="486.23" y="138.75" width="2.1" height="11.85" fill="#1a7a2f"/>
<path d="M490.49,135.25V142.50" stroke="#3ad85a" stroke-width="1.25"/>
<rect x="489.44" y="137.25" width="2.1" height="2.50" fill="#1a7a2f"/>
<path d="M493.70,136.90V143.10" stroke="#f57a7d" stroke-width="1.3"/>
<rect x="492.65" y="137.25" width="2.1" height="5.50" fill="#b6121c"/>
<path d="M496.92,139.75V144.00" stroke="#3ad85a" stroke-width="1.25"/>
<rect x="495.87" y="140.25" width="2.1" height="2.50" fill="#1a7a2f"/>
<path d="M500.13,134.40V140.60" stroke="#3ad85a" stroke-width="1.25"/>
<rect x="499.08" y="135.60" width="2.1" height="4.65" fill="#1a7a2f"/>
<path d="M503.35,135.60V142.75" stroke="#f57a7d" stroke-width="1.3"/>
<rect x="502.30" y="136.50" width="2.1" height="6.00" fill="#b6121c"/>
<path d="M506.56,141.00V149.40" stroke="#f57a7d" stroke-width="1.3"/>
<rect x="505.51" y="141.90" width="2.1" height="3.10" fill="#b6121c"/>
<path d="M509.78,141.25V156.00" stroke="#f57a7d" stroke-width="1.3"/>
<rect x="508.73" y="143.75" width="2.1" height="11.85" fill="#b6121c"/>
<path d="M512.99,153.10V160.60" stroke="#f57a7d" stroke-width="1.3"/>
<rect x="511.94" y="154.73" width="2.1" height="0.90" fill="#b6121c"/>
<path d="M516.20,152.25V156.90" stroke="#3ad85a" stroke-width="1.25"/>
<rect x="515.15" y="154.00" width="2.1" height="2.50" fill="#1a7a2f"/>
<path d="M519.42,150.00V155.60" stroke="#3ad85a" stroke-width="1.25"/>
<rect x="518.37" y="153.75" width="2.1" height="1.25" fill="#1a7a2f"/>
<path d="M522.63,152.75V155.60" stroke="#f57a7d" stroke-width="1.3"/>
<rect x="521.58" y="153.50" width="2.1" height="1.75" fill="#b6121c"/>
<path d="M525.85,154.00V163.10" stroke="#f57a7d" stroke-width="1.3"/>
<rect x="524.80" y="154.75" width="2.1" height="6.25" fill="#b6121c"/>
<path d="M529.06,156.25V161.00" stroke="#3ad85a" stroke-width="1.25"/>
<rect x="528.01" y="157.25" width="2.1" height="3.35" fill="#1a7a2f"/>
<path d="M532.27,150.00V157.75" stroke="#3ad85a" stroke-width="1.25"/>
<rect x="531.22" y="151.00" width="2.1" height="6.25" fill="#1a7a2f"/>
<path d="M535.49,147.75V152.25" stroke="#3ad85a" stroke-width="1.25"/>
<rect x="534.44" y="149.00" width="2.1" height="2.50" fill="#1a7a2f"/>
<path d="M538.70,149.00V163.75" stroke="#f57a7d" stroke-width="1.3"/>
<rect x="537.65" y="149.75" width="2.1" height="10.85" fill="#b6121c"/>
<path d="M541.92,159.40V169.75" stroke="#f57a7d" stroke-width="1.3"/>
<rect x="540.87" y="160.00" width="2.1" height="2.75" fill="#b6121c"/>
<path d="M545.13,161.25V192.75" stroke="#f57a7d" stroke-width="1.3"/>
<rect x="544.08" y="162.25" width="2.1" height="22.50" fill="#b6121c"/>
<path d="M548.35,182.25V195.60" stroke="#f57a7d" stroke-width="1.3"/>
<rect x="547.30" y="184.75" width="2.1" height="5.85" fill="#b6121c"/>
<path d="M551.56,184.40V198.75" stroke="#3ad85a" stroke-width="1.25"/>
<rect x="550.51" y="186.25" width="2.1" height="4.75" fill="#1a7a2f"/>
<path d="M554.77,183.75V196.25" stroke="#f57a7d" stroke-width="1.3"/>
<rect x="553.72" y="186.00" width="2.1" height="6.50" fill="#b6121c"/>
<path d="M557.99,189.40V210.60" stroke="#f57a7d" stroke-width="1.3"/>
<rect x="556.94" y="191.90" width="2.1" height="16.60" fill="#b6121c"/>
<path d="M561.20,206.25V234.00" stroke="#f57a7d" stroke-width="1.3"/>
<rect x="560.15" y="207.75" width="2.1" height="26.00" fill="#b6121c"/>
<path d="M564.42,215.25V243.50" stroke="#3ad85a" stroke-width="1.25"/>
<rect x="563.37" y="219.00" width="2.1" height="14.75" fill="#1a7a2f"/>
<path d="M567.63,216.90V226.90" stroke="#f57a7d" stroke-width="1.3"/>
<rect x="566.58" y="218.75" width="2.1" height="4.35" fill="#b6121c"/>
<path d="M570.85,220.00V225.60" stroke="#f57a7d" stroke-width="1.3"/>
<rect x="569.80" y="221.90" width="2.1" height="2.50" fill="#b6121c"/>
<path d="M574.06,222.50V230.60" stroke="#f57a7d" stroke-width="1.3"/>
<rect x="573.01" y="223.50" width="2.1" height="1.50" fill="#b6121c"/>
<path d="M577.27,222.75V231.00" stroke="#f57a7d" stroke-width="1.3"/>
<rect x="576.22" y="224.00" width="2.1" height="6.60" fill="#b6121c"/>
<path d="M580.49,228.50V238.75" stroke="#f57a7d" stroke-width="1.3"/>
<rect x="579.44" y="229.75" width="2.1" height="4.00" fill="#b6121c"/>
<path d="M583.70,229.40V234.75" stroke="#3ad85a" stroke-width="1.25"/>
<rect x="582.65" y="231.00" width="2.1" height="3.00" fill="#1a7a2f"/>
<path d="M586.92,229.00V237.50" stroke="#3ad85a" stroke-width="1.25"/>
<rect x="585.87" y="230.00" width="2.1" height="1.50" fill="#1a7a2f"/>
<path d="M590.13,224.40V231.00" stroke="#3ad85a" stroke-width="1.25"/>
<rect x="589.08" y="226.00" width="2.1" height="4.60" fill="#1a7a2f"/>
<path d="M593.34,223.10V232.50" stroke="#f57a7d" stroke-width="1.3"/>
<rect x="592.29" y="226.00" width="2.1" height="4.60" fill="#b6121c"/>
<path d="M596.56,226.00V233.75" stroke="#3ad85a" stroke-width="1.25"/>
<rect x="595.51" y="227.25" width="2.1" height="3.75" fill="#1a7a2f"/>
<path d="M599.77,226.00V231.25" stroke="#f57a7d" stroke-width="1.3"/>
<rect x="598.72" y="227.25" width="2.1" height="2.75" fill="#b6121c"/>
<path d="M602.99,227.25V234.75" stroke="#f57a7d" stroke-width="1.3"/>
<rect x="601.94" y="229.00" width="2.1" height="5.00" fill="#b6121c"/>
<path d="M606.20,232.25V235.25" stroke="#3ad85a" stroke-width="1.25"/>
<rect x="605.15" y="232.75" width="2.1" height="1.65" fill="#1a7a2f"/>
<path d="M609.42,226.50V234.00" stroke="#3ad85a" stroke-width="1.25"/>
<rect x="608.37" y="227.75" width="2.1" height="5.75" fill="#1a7a2f"/>
<path d="M612.63,225.00V228.75" stroke="#f57a7d" stroke-width="1.3"/>
<rect x="611.58" y="226.50" width="2.1" height="1.60" fill="#b6121c"/>
<path d="M615.84,227.25V231.90" stroke="#f57a7d" stroke-width="1.3"/>
<rect x="614.79" y="228.10" width="2.1" height="3.15" fill="#b6121c"/>
<path d="M619.06,230.00V240.00" stroke="#f57a7d" stroke-width="1.3"/>
<rect x="618.01" y="231.00" width="2.1" height="5.25" fill="#b6121c"/>
<path d="M622.27,234.00V241.00" stroke="#f57a7d" stroke-width="1.3"/>
<rect x="621.22" y="236.00" width="2.1" height="4.25" fill="#b6121c"/>
<path d="M625.49,223.50V240.60" stroke="#3ad85a" stroke-width="1.25"/>
<rect x="624.44" y="227.25" width="2.1" height="13.00" fill="#1a7a2f"/>
<path d="M628.70,225.00V230.60" stroke="#f57a7d" stroke-width="1.3"/>
<rect x="627.65" y="226.25" width="2.1" height="1.50" fill="#b6121c"/>
<path d="M631.91,225.00V233.50" stroke="#f57a7d" stroke-width="1.3"/>
<rect x="630.86" y="227.25" width="2.1" height="4.25" fill="#b6121c"/>
<path d="M635.13,229.00V238.00" stroke="#3ad85a" stroke-width="1.25"/>
<rect x="634.08" y="230.00" width="2.1" height="1.50" fill="#1a7a2f"/>
<path d="M638.34,225.60V232.00" stroke="#3ad85a" stroke-width="1.25"/>
<rect x="637.29" y="229.68" width="2.1" height="0.90" fill="#1a7a2f"/>
<path d="M641.56,220.00V231.25" stroke="#3ad85a" stroke-width="1.25"/>
<rect x="640.51" y="224.00" width="2.1" height="7.00" fill="#1a7a2f"/>
<path d="M644.77,223.10V229.00" stroke="#f57a7d" stroke-width="1.3"/>
<rect x="643.72" y="224.40" width="2.1" height="1.85" fill="#b6121c"/>
<path d="M647.99,216.00V227.50" stroke="#3ad85a" stroke-width="1.25"/>
<rect x="646.94" y="217.75" width="2.1" height="7.85" fill="#1a7a2f"/>
<path d="M651.20,216.25V222.75" stroke="#f57a7d" stroke-width="1.3"/>
<rect x="650.15" y="217.75" width="2.1" height="4.15" fill="#b6121c"/>
<path d="M654.41,220.60V228.50" stroke="#f57a7d" stroke-width="1.3"/>
<rect x="653.36" y="221.25" width="2.1" height="6.85" fill="#b6121c"/>
<path d="M657.63,226.50V229.75" stroke="#f57a7d" stroke-width="1.3"/>
<rect x="656.58" y="227.25" width="2.1" height="2.15" fill="#b6121c"/>
<path d="M660.84,228.10V232.50" stroke="#f57a7d" stroke-width="1.3"/>
<rect x="659.79" y="229.00" width="2.1" height="3.25" fill="#b6121c"/>
<path d="M664.06,223.10V232.25" stroke="#3ad85a" stroke-width="1.25"/>
<rect x="663.01" y="224.75" width="2.1" height="7.15" fill="#1a7a2f"/>
<path d="M667.27,220.00V226.00" stroke="#3ad85a" stroke-width="1.25"/>
<rect x="666.22" y="223.10" width="2.1" height="2.50" fill="#1a7a2f"/>
<path d="M670.49,219.40V225.00" stroke="#3ad85a" stroke-width="1.25"/>
<rect x="669.44" y="220.60" width="2.1" height="3.40" fill="#1a7a2f"/>
<path d="M673.70,218.10V222.25" stroke="#3ad85a" stroke-width="1.25"/>
<rect x="672.65" y="220.00" width="2.1" height="1.90" fill="#1a7a2f"/>
<path d="M676.91,213.10V221.90" stroke="#3ad85a" stroke-width="1.25"/>
<rect x="675.86" y="219.40" width="2.1" height="2.10" fill="#1a7a2f"/>
<path d="M680.13,217.50V220.00" stroke="#3ad85a" stroke-width="1.25"/>
<rect x="679.08" y="218.10" width="2.1" height="1.65" fill="#1a7a2f"/>
<path d="M683.34,212.50V220.00" stroke="#3ad85a" stroke-width="1.25"/>
<rect x="682.29" y="213.75" width="2.1" height="6.00" fill="#1a7a2f"/>
<path d="M686.56,210.00V215.25" stroke="#3ad85a" stroke-width="1.25"/>
<rect x="685.51" y="211.25" width="2.1" height="3.50" fill="#1a7a2f"/>
<path d="M689.77,210.60V216.50" stroke="#f57a7d" stroke-width="1.3"/>
<rect x="688.72" y="211.25" width="2.1" height="4.75" fill="#b6121c"/>
<path d="M692.98,213.50V221.90" stroke="#f57a7d" stroke-width="1.3"/>
<rect x="691.93" y="215.25" width="2.1" height="6.00" fill="#b6121c"/>
<path d="M696.20,219.75V225.00" stroke="#f57a7d" stroke-width="1.3"/>
<rect x="695.15" y="220.25" width="2.1" height="4.50" fill="#b6121c"/>
<path d="M699.41,222.75V224.75" stroke="#3ad85a" stroke-width="1.25"/>
<rect x="698.36" y="223.10" width="2.1" height="1.30" fill="#1a7a2f"/>
<path d="M702.63,222.25V227.25" stroke="#f57a7d" stroke-width="1.3"/>
<rect x="701.58" y="222.75" width="2.1" height="4.15" fill="#b6121c"/>
<path d="M705.84,225.60V229.00" stroke="#f57a7d" stroke-width="1.3"/>
<rect x="704.79" y="226.00" width="2.1" height="2.75" fill="#b6121c"/>
<path d="M709.06,220.60V228.75" stroke="#3ad85a" stroke-width="1.25"/>
<rect x="708.01" y="222.25" width="2.1" height="6.25" fill="#1a7a2f"/>
</g>
<path d="M165.4,27.75L731,212.5" stroke="#4a4a4e" stroke-width="0.95" fill="none"/>
<path d="M8.00,287.25 L18.75,286.40 L25.00,286.00 L31.25,286.75 L37.50,287.60 L43.75,288.25 L50.00,288.90 L56.25,289.75 L62.50,290.50 L68.75,291.40 L75.00,291.75 L81.25,291.40 L87.50,290.90 L93.75,290.10 L102.50,288.00 L115.00,284.50 L121.25,283.25 L128.75,282.60 L133.75,283.50 L140.00,284.50 L146.25,285.10 L152.50,285.75 L158.75,286.40 L165.00,286.75 L171.25,286.00 L177.50,284.75 L183.75,284.25 L192.50,283.90 L198.75,285.10 L205.00,287.00 L211.25,289.25 L217.50,291.40 L221.25,292.60 L230.00,293.25 L236.25,294.25 L242.50,294.50 L248.75,294.75 L255.00,295.10 L261.25,295.75 L267.50,296.75 L273.75,297.70 L282.50,298.90 L288.75,300.10 L295.00,301.00 L301.25,301.40 L307.50,301.75 L313.75,302.00 L320.00,302.60 L326.25,303.00 L332.50,302.60 L338.75,302.25 L345.00,302.00 L351.25,301.75 L357.50,300.50 L363.75,299.25 L372.50,297.60 L378.75,297.00 L385.00,296.40 L391.25,296.00 L397.50,296.40 L403.75,297.00 L410.00,297.25 L416.25,297.60 L422.50,298.25 L428.75,298.50 L435.00,298.50 L441.25,298.25 L447.50,297.25 L453.75,296.40 L462.50,294.75 L468.75,293.25 L475.00,292.00 L481.25,290.75 L487.50,289.50 L493.75,288.50 L500.00,287.60 L506.25,288.50 L512.50,289.50 L518.75,290.10 L525.00,291.40 L531.25,292.60 L537.50,293.90 L543.75,296.00 L552.50,299.75 L558.75,301.75 L565.00,303.25 L571.25,305.10 L577.50,306.75 L583.75,308.00 L590.00,308.50 L596.25,308.25 L602.50,307.60 L608.75,306.75 L615.00,306.00 L621.25,305.50 L627.50,304.50 L633.75,303.25 L642.50,302.00 L648.75,300.50 L655.00,299.50 L661.25,298.50 L667.50,297.25 L673.75,296.40 L680.00,295.50 L686.25,294.50 L692.50,293.90 L698.75,293.90 L705.00,293.50 L708.75,293.50" stroke="#f6d860" stroke-width="1.2" fill="none" stroke-linejoin="round"/>
<path d="M8.00,283.90 L11.25,285.75 L14.40,290.50 L17.50,286.75 L20.60,290.10 L23.75,284.50 L26.90,285.75 L30.00,287.60 L33.10,292.60 L36.25,290.75 L40.00,291.40 L43.10,289.50 L46.25,290.50 L49.40,290.75 L52.50,292.00 L56.25,293.50 L59.40,292.60 L62.50,293.00 L66.25,294.50 L68.75,293.90 L72.50,291.40 L75.60,289.50 L78.75,289.25 L81.90,288.90 L85.00,287.00 L88.75,285.10 L91.90,283.60 L94.40,283.00 L101.25,286.00 L107.50,279.75 L110.60,281.40 L113.75,281.40 L117.25,277.60 L120.00,277.25 L123.10,286.40 L126.25,284.50 L130.00,284.50 L133.50,293.90 L140.00,291.40 L143.10,289.50 L146.25,286.75 L149.40,288.90 L153.10,287.25 L158.75,279.75 L161.90,283.90 L165.60,283.00 L171.90,278.25 L175.00,278.00 L179.00,283.90 L182.50,293.00 L185.25,290.75 L188.10,285.50 L191.90,286.40 L195.60,291.40 L200.00,293.25 L204.40,296.40 L210.00,294.50 L213.75,295.10 L217.50,297.00 L220.60,296.40 L223.75,293.25 L227.50,294.50 L231.25,293.50 L234.40,292.25 L237.50,293.25 L240.00,295.10 L243.10,294.50 L246.25,296.40 L250.00,295.50 L255.60,295.75 L258.75,300.75 L261.90,303.90 L265.00,302.00 L268.75,302.25 L271.90,299.10 L276.25,298.90 L281.25,298.50 L285.00,301.40 L288.10,301.75 L291.25,303.25 L294.40,303.25 L296.90,301.75 L300.00,301.75 L303.10,303.25 L306.90,300.50 L310.00,302.25 L313.10,304.25 L316.90,306.40 L320.00,305.75 L323.10,304.75 L326.25,302.00 L329.40,302.00 L332.50,298.50 L336.25,298.25 L339.40,299.25 L342.50,300.10 L345.00,299.50 L348.75,303.90 L351.90,298.25 L355.00,293.25 L358.10,295.10 L361.90,296.40 L366.25,295.50 L370.60,295.75 L375.00,295.10 L378.75,296.40 L383.10,297.00 L386.90,294.75 L390.00,297.00 L393.10,299.50 L396.25,297.00 L400.00,300.10 L403.10,301.75 L406.25,298.25 L410.00,298.00 L415.00,297.60 L418.75,298.90 L422.50,298.90 L426.25,300.75 L429.40,299.75 L432.50,297.60 L435.00,295.10 L438.10,296.40 L441.90,294.75 L445.00,294.50 L448.75,294.25 L451.90,291.40 L454.40,291.75 L458.10,288.90 L461.25,286.75 L465.00,286.00 L468.10,289.50 L470.60,291.75 L473.75,290.75 L476.90,289.25 L480.00,289.75 L483.50,289.50 L486.90,284.25 L490.60,283.50 L493.75,287.60 L496.90,286.40 L499.75,285.10 L502.50,288.90 L506.25,290.75 L509.40,297.60 L512.50,297.60 L516.25,296.40 L519.40,296.40 L521.90,297.00 L525.00,300.50 L528.10,297.60 L531.90,293.90 L535.00,293.25 L538.10,298.25 L541.90,299.60 L544.40,306.40 L547.50,308.50 L550.60,305.50 L553.75,306.00 L557.50,309.50 L560.60,312.60 L563.75,307.60 L570.00,307.60 L576.25,308.90 L580.00,309.25 L583.10,308.25 L586.25,307.25 L589.40,305.10 L592.50,306.00 L596.25,304.50 L600.00,305.50 L602.50,306.00 L605.60,305.10 L608.75,302.60 L612.50,302.60 L615.00,304.25 L618.75,305.50 L621.90,306.00 L625.00,298.90 L628.10,298.90 L631.90,300.10 L635.00,299.75 L638.10,299.25 L641.25,296.40 L644.40,296.75 L647.50,293.25 L650.60,294.50 L653.75,297.00 L656.90,298.50 L660.00,299.25 L663.10,295.75 L666.25,294.50 L670.00,293.00 L673.75,292.60 L676.90,292.25 L679.75,292.00 L682.50,289.50 L686.25,288.50 L689.40,291.40 L692.50,294.50 L695.60,296.40 L698.75,296.00 L701.90,297.60 L705.00,298.50 L708.75,293.90" stroke="#8b68cf" stroke-width="1.0" fill="none" stroke-linejoin="round"/>
<rect x="7.16" y="342.40" width="2.4" height="1.45" fill="#26a69a"/>
<rect x="10.37" y="342.95" width="2.4" height="0.90" fill="#26a69a"/>
<rect x="13.59" y="342.95" width="2.4" height="0.90" fill="#26a69a"/>
<rect x="16.80" y="342.95" width="2.4" height="0.90" fill="#26a69a"/>
<rect x="20.02" y="342.95" width="2.4" height="0.90" fill="#b2dfdb"/>
<rect x="23.23" y="342.15" width="2.4" height="1.70" fill="#26a69a"/>
<rect x="26.45" y="342.15" width="2.4" height="1.70" fill="#26a69a"/>
<rect x="29.66" y="342.95" width="2.4" height="0.90" fill="#b2dfdb"/>
<rect x="32.87" y="342.95" width="2.4" height="1.45" fill="#ff5252"/>
<rect x="36.09" y="342.95" width="2.4" height="1.45" fill="#ff5252"/>
<rect x="39.30" y="342.95" width="2.4" height="1.70" fill="#ff5252"/>
<rect x="42.52" y="342.95" width="2.4" height="1.45" fill="#ff5252"/>
<rect x="45.73" y="342.95" width="2.4" height="1.70" fill="#ff5252"/>
<rect x="48.94" y="342.95" width="2.4" height="1.70" fill="#ff5252"/>
<rect x="52.16" y="342.95" width="2.4" height="1.70" fill="#ff5252"/>
<rect x="55.37" y="342.95" width="2.4" height="2.45" fill="#ff5252"/>
<rect x="58.59" y="342.95" width="2.4" height="2.45" fill="#ff5252"/>
<rect x="61.80" y="342.95" width="2.4" height="2.20" fill="#ffcdd2"/>
<rect x="65.02" y="342.95" width="2.4" height="2.20" fill="#ff5252"/>
<rect x="68.23" y="342.95" width="2.4" height="1.45" fill="#ffcdd2"/>
<rect x="71.44" y="342.95" width="2.4" height="1.70" fill="#ffcdd2"/>
<rect x="74.66" y="342.95" width="2.4" height="0.95" fill="#ffcdd2"/>
<rect x="77.87" y="342.95" width="2.4" height="1.05" fill="#ffcdd2"/>
<rect x="81.09" y="342.95" width="2.4" height="1.05" fill="#ffcdd2"/>
<rect x="84.30" y="342.95" width="2.4" height="0.90" fill="#26a69a"/>
<rect x="87.52" y="342.90" width="2.4" height="0.95" fill="#26a69a"/>
<rect x="90.73" y="342.15" width="2.4" height="1.70" fill="#26a69a"/>
<rect x="93.94" y="342.15" width="2.4" height="1.70" fill="#26a69a"/>
<rect x="97.16" y="342.15" width="2.4" height="1.70" fill="#26a69a"/>
<rect x="100.37" y="342.80" width="2.4" height="1.05" fill="#b2dfdb"/>
<rect x="103.59" y="342.20" width="2.4" height="1.65" fill="#26a69a"/>
<rect x="106.80" y="341.50" width="2.4" height="2.35" fill="#26a69a"/>
<rect x="110.01" y="341.50" width="2.4" height="2.35" fill="#26a69a"/>
<rect x="113.23" y="341.90" width="2.4" height="1.95" fill="#b2dfdb"/>
<rect x="116.44" y="340.65" width="2.4" height="3.20" fill="#26a69a"/>
<rect x="119.66" y="340.65" width="2.4" height="3.20" fill="#26a69a"/>
<rect x="122.87" y="342.20" width="2.4" height="1.65" fill="#b2dfdb"/>
<rect x="126.09" y="342.20" width="2.4" height="1.65" fill="#b2dfdb"/>
<rect x="129.30" y="342.70" width="2.4" height="1.15" fill="#b2dfdb"/>
<rect x="132.51" y="342.95" width="2.4" height="1.55" fill="#ff5252"/>
<rect x="135.73" y="342.95" width="2.4" height="1.85" fill="#ff5252"/>
<rect x="138.94" y="342.95" width="2.4" height="1.95" fill="#ff5252"/>
<rect x="142.16" y="342.95" width="2.4" height="1.25" fill="#ffcdd2"/>
<rect x="145.37" y="342.95" width="2.4" height="1.15" fill="#ffcdd2"/>
<rect x="148.58" y="342.95" width="2.4" height="1.05" fill="#ffcdd2"/>
<rect x="151.80" y="342.95" width="2.4" height="0.95" fill="#ffcdd2"/>
<rect x="155.01" y="342.20" width="2.4" height="1.65" fill="#26a69a"/>
<rect x="158.23" y="341.20" width="2.4" height="2.65" fill="#26a69a"/>
<rect x="161.44" y="340.30" width="2.4" height="3.55" fill="#26a69a"/>
<rect x="164.66" y="340.30" width="2.4" height="3.55" fill="#26a69a"/>
<rect x="167.87" y="339.00" width="2.4" height="4.85" fill="#26a69a"/>
<rect x="171.08" y="337.80" width="2.4" height="6.05" fill="#26a69a"/>
<rect x="174.30" y="337.80" width="2.4" height="6.05" fill="#26a69a"/>
<rect x="177.51" y="339.00" width="2.4" height="4.85" fill="#b2dfdb"/>
<rect x="180.73" y="342.30" width="2.4" height="1.55" fill="#b2dfdb"/>
<rect x="183.94" y="342.90" width="2.4" height="0.95" fill="#b2dfdb"/>
<rect x="187.16" y="342.20" width="2.4" height="1.65" fill="#26a69a"/>
<rect x="190.37" y="341.65" width="2.4" height="2.20" fill="#26a69a"/>
<rect x="193.58" y="342.90" width="2.4" height="0.95" fill="#b2dfdb"/>
<rect x="196.80" y="342.95" width="2.4" height="2.35" fill="#ff5252"/>
<rect x="200.01" y="342.95" width="2.4" height="3.95" fill="#ff5252"/>
<rect x="203.23" y="342.95" width="2.4" height="5.70" fill="#ff5252"/>
<rect x="206.44" y="342.95" width="2.4" height="6.05" fill="#ff5252"/>
<rect x="209.65" y="342.95" width="2.4" height="6.05" fill="#ff5252"/>
<rect x="212.87" y="342.95" width="2.4" height="6.05" fill="#ff5252"/>
<rect x="216.08" y="342.95" width="2.4" height="6.95" fill="#ff5252"/>
<rect x="219.30" y="342.95" width="2.4" height="6.70" fill="#ffcdd2"/>
<rect x="222.51" y="342.95" width="2.4" height="5.45" fill="#ffcdd2"/>
<rect x="225.73" y="342.95" width="2.4" height="4.85" fill="#ffcdd2"/>
<rect x="228.94" y="342.95" width="2.4" height="4.45" fill="#ffcdd2"/>
<rect x="232.15" y="342.95" width="2.4" height="3.95" fill="#ffcdd2"/>
<rect x="235.37" y="342.95" width="2.4" height="3.20" fill="#ffcdd2"/>
<rect x="238.58" y="342.95" width="2.4" height="3.20" fill="#ff5252"/>
<rect x="241.80" y="342.95" width="2.4" height="2.70" fill="#ffcdd2"/>
<rect x="245.01" y="342.95" width="2.4" height="3.20" fill="#ff5252"/>
<rect x="248.23" y="342.95" width="2.4" height="2.45" fill="#ffcdd2"/>
<rect x="251.44" y="342.95" width="2.4" height="1.95" fill="#ffcdd2"/>
<rect x="254.65" y="342.95" width="2.4" height="1.95" fill="#ffcdd2"/>
<rect x="257.87" y="342.95" width="2.4" height="4.20" fill="#ff5252"/>
<rect x="261.08" y="342.95" width="2.4" height="5.45" fill="#ff5252"/>
<rect x="264.30" y="342.95" width="2.4" height="5.70" fill="#ff5252"/>
<rect x="267.51" y="342.95" width="2.4" height="5.70" fill="#ff5252"/>
<rect x="270.72" y="342.95" width="2.4" height="4.65" fill="#ffcdd2"/>
<rect x="273.94" y="342.95" width="2.4" height="4.05" fill="#ffcdd2"/>
<rect x="277.15" y="342.95" width="2.4" height="3.75" fill="#ffcdd2"/>
<rect x="280.37" y="342.95" width="2.4" height="3.20" fill="#ffcdd2"/>
<rect x="283.58" y="342.95" width="2.4" height="3.20" fill="#ffcdd2"/>
<rect x="286.80" y="342.95" width="2.4" height="3.20" fill="#ffcdd2"/>
<rect x="290.01" y="342.95" width="2.4" height="3.70" fill="#ff5252"/>
<rect x="293.22" y="342.95" width="2.4" height="3.70" fill="#ff5252"/>
<rect x="296.44" y="342.95" width="2.4" height="2.95" fill="#ffcdd2"/>
<rect x="299.65" y="342.95" width="2.4" height="2.45" fill="#ffcdd2"/>
<rect x="302.87" y="342.95" width="2.4" height="2.70" fill="#ffcdd2"/>
<rect x="306.08" y="342.95" width="2.4" height="1.70" fill="#ffcdd2"/>
<rect x="309.29" y="342.95" width="2.4" height="2.20" fill="#ff5252"/>
<rect x="312.51" y="342.95" width="2.4" height="3.20" fill="#ff5252"/>
<rect x="315.72" y="342.95" width="2.4" height="3.95" fill="#ff5252"/>
<rect x="318.94" y="342.95" width="2.4" height="3.95" fill="#ff5252"/>
<rect x="322.15" y="342.95" width="2.4" height="2.95" fill="#ffcdd2"/>
<rect x="325.37" y="342.95" width="2.4" height="1.95" fill="#ffcdd2"/>
<rect x="328.58" y="342.95" width="2.4" height="1.70" fill="#ffcdd2"/>
<rect x="331.79" y="342.80" width="2.4" height="1.05" fill="#26a69a"/>
<rect x="335.01" y="342.15" width="2.4" height="1.70" fill="#26a69a"/>
<rect x="338.22" y="341.65" width="2.4" height="2.20" fill="#26a69a"/>
<rect x="341.44" y="341.65" width="2.4" height="2.20" fill="#26a69a"/>
<rect x="344.65" y="341.65" width="2.4" height="2.20" fill="#26a69a"/>
<rect x="347.87" y="342.40" width="2.4" height="1.45" fill="#b2dfdb"/>
<rect x="351.08" y="342.15" width="2.4" height="1.70" fill="#26a69a"/>
<rect x="354.29" y="341.40" width="2.4" height="2.45" fill="#26a69a"/>
<rect x="357.51" y="340.90" width="2.4" height="2.95" fill="#26a69a"/>
<rect x="360.72" y="341.15" width="2.4" height="2.70" fill="#b2dfdb"/>
<rect x="363.94" y="341.80" width="2.4" height="2.05" fill="#b2dfdb"/>
<rect x="367.15" y="341.80" width="2.4" height="2.05" fill="#b2dfdb"/>
<rect x="370.36" y="341.90" width="2.4" height="1.95" fill="#b2dfdb"/>
<rect x="373.58" y="341.90" width="2.4" height="1.95" fill="#b2dfdb"/>
<rect x="376.79" y="341.90" width="2.4" height="1.95" fill="#b2dfdb"/>
<rect x="380.01" y="341.90" width="2.4" height="1.95" fill="#b2dfdb"/>
<rect x="383.22" y="342.15" width="2.4" height="1.70" fill="#b2dfdb"/>
<rect x="386.44" y="341.90" width="2.4" height="1.95" fill="#26a69a"/>
<rect x="389.65" y="342.65" width="2.4" height="1.20" fill="#b2dfdb"/>
<rect x="392.86" y="342.90" width="2.4" height="0.95" fill="#b2dfdb"/>
<rect x="396.08" y="342.90" width="2.4" height="0.95" fill="#26a69a"/>
<rect x="399.29" y="342.95" width="2.4" height="0.90" fill="#b2dfdb"/>
<rect x="402.51" y="342.95" width="2.4" height="1.95" fill="#ff5252"/>
<rect x="405.72" y="342.95" width="2.4" height="1.45" fill="#ffcdd2"/>
<rect x="408.94" y="342.95" width="2.4" height="1.20" fill="#ffcdd2"/>
<rect x="412.15" y="342.95" width="2.4" height="0.95" fill="#ffcdd2"/>
<rect x="415.36" y="342.95" width="2.4" height="0.90" fill="#26a69a"/>
<rect x="418.58" y="342.95" width="2.4" height="1.20" fill="#ff5252"/>
<rect x="421.79" y="342.95" width="2.4" height="0.90" fill="#26a69a"/>
<rect x="425.01" y="342.95" width="2.4" height="1.95" fill="#ff5252"/>
<rect x="428.22" y="342.95" width="2.4" height="1.95" fill="#ff5252"/>
<rect x="431.43" y="342.95" width="2.4" height="0.95" fill="#ffcdd2"/>
<rect x="434.65" y="342.90" width="2.4" height="0.95" fill="#26a69a"/>
<rect x="437.86" y="342.80" width="2.4" height="1.05" fill="#26a69a"/>
<rect x="441.08" y="342.15" width="2.4" height="1.70" fill="#26a69a"/>
<rect x="444.29" y="341.90" width="2.4" height="1.95" fill="#26a69a"/>
<rect x="447.51" y="341.90" width="2.4" height="1.95" fill="#26a69a"/>
<rect x="450.72" y="342.00" width="2.4" height="1.85" fill="#26a69a"/>
<rect x="453.93" y="341.90" width="2.4" height="1.95" fill="#26a69a"/>
<rect x="457.15" y="341.55" width="2.4" height="2.30" fill="#26a69a"/>
<rect x="460.36" y="341.65" width="2.4" height="2.20" fill="#26a69a"/>
<rect x="463.58" y="341.65" width="2.4" height="2.20" fill="#26a69a"/>
<rect x="466.79" y="342.40" width="2.4" height="1.45" fill="#b2dfdb"/>
<rect x="470.00" y="342.80" width="2.4" height="1.05" fill="#b2dfdb"/>
<rect x="473.22" y="342.80" width="2.4" height="1.05" fill="#b2dfdb"/>
<rect x="476.43" y="342.80" width="2.4" height="1.05" fill="#b2dfdb"/>
<rect x="479.65" y="342.90" width="2.4" height="0.95" fill="#b2dfdb"/>
<rect x="482.86" y="342.65" width="2.4" height="1.20" fill="#b2dfdb"/>
<rect x="486.08" y="341.65" width="2.4" height="2.20" fill="#26a69a"/>
<rect x="489.29" y="341.65" width="2.4" height="2.20" fill="#26a69a"/>
<rect x="492.50" y="342.80" width="2.4" height="1.05" fill="#b2dfdb"/>
<rect x="495.72" y="342.90" width="2.4" height="0.95" fill="#b2dfdb"/>
<rect x="498.93" y="342.80" width="2.4" height="1.05" fill="#b2dfdb"/>
<rect x="502.15" y="342.95" width="2.4" height="0.90" fill="#b2dfdb"/>
<rect x="505.36" y="342.95" width="2.4" height="0.90" fill="#b2dfdb"/>
<rect x="508.58" y="342.95" width="2.4" height="1.95" fill="#ff5252"/>
<rect x="511.79" y="342.95" width="2.4" height="2.45" fill="#ff5252"/>
<rect x="515.00" y="342.95" width="2.4" height="2.45" fill="#ff5252"/>
<rect x="518.22" y="342.95" width="2.4" height="2.70" fill="#ff5252"/>
<rect x="521.43" y="342.95" width="2.4" height="2.70" fill="#ff5252"/>
<rect x="524.65" y="342.95" width="2.4" height="2.95" fill="#ff5252"/>
<rect x="527.86" y="342.95" width="2.4" height="1.70" fill="#ffcdd2"/>
<rect x="531.07" y="342.95" width="2.4" height="0.95" fill="#ffcdd2"/>
<rect x="534.29" y="342.95" width="2.4" height="0.90" fill="#ffcdd2"/>
<rect x="537.50" y="342.95" width="2.4" height="1.20" fill="#ff5252"/>
<rect x="540.72" y="342.95" width="2.4" height="1.95" fill="#ff5252"/>
<rect x="543.93" y="342.95" width="2.4" height="3.55" fill="#ff5252"/>
<rect x="547.15" y="342.95" width="2.4" height="4.45" fill="#ff5252"/>
<rect x="550.36" y="342.95" width="2.4" height="4.85" fill="#ff5252"/>
<rect x="553.57" y="342.95" width="2.4" height="5.20" fill="#ff5252"/>
<rect x="556.79" y="342.95" width="2.4" height="6.05" fill="#ff5252"/>
<rect x="560.00" y="342.95" width="2.4" height="6.95" fill="#ff5252"/>
<rect x="563.22" y="342.95" width="2.4" height="6.95" fill="#ffcdd2"/>
<rect x="566.43" y="342.95" width="2.4" height="6.70" fill="#ffcdd2"/>
<rect x="569.64" y="342.95" width="2.4" height="6.05" fill="#ffcdd2"/>
<rect x="572.86" y="342.95" width="2.4" height="5.70" fill="#ffcdd2"/>
<rect x="576.07" y="342.95" width="2.4" height="5.20" fill="#ffcdd2"/>
<rect x="579.29" y="342.95" width="2.4" height="4.85" fill="#ffcdd2"/>
<rect x="582.50" y="342.95" width="2.4" height="3.95" fill="#ffcdd2"/>
<rect x="585.72" y="342.95" width="2.4" height="3.20" fill="#ffcdd2"/>
<rect x="588.93" y="342.95" width="2.4" height="2.70" fill="#ffcdd2"/>
<rect x="592.14" y="342.95" width="2.4" height="1.70" fill="#ffcdd2"/>
<rect x="595.36" y="342.90" width="2.4" height="0.95" fill="#26a69a"/>
<rect x="598.57" y="342.80" width="2.4" height="1.05" fill="#26a69a"/>
<rect x="601.79" y="342.65" width="2.4" height="1.20" fill="#26a69a"/>
<rect x="605.00" y="342.15" width="2.4" height="1.70" fill="#26a69a"/>
<rect x="608.22" y="342.15" width="2.4" height="1.70" fill="#26a69a"/>
<rect x="611.43" y="341.65" width="2.4" height="2.20" fill="#26a69a"/>
<rect x="614.64" y="341.65" width="2.4" height="2.20" fill="#26a69a"/>
<rect x="617.86" y="341.90" width="2.4" height="1.95" fill="#b2dfdb"/>
<rect x="621.07" y="342.40" width="2.4" height="1.45" fill="#b2dfdb"/>
<rect x="624.29" y="341.40" width="2.4" height="2.45" fill="#26a69a"/>
<rect x="627.50" y="340.90" width="2.4" height="2.95" fill="#26a69a"/>
<rect x="630.71" y="340.90" width="2.4" height="2.95" fill="#b2dfdb"/>
<rect x="633.93" y="340.90" width="2.4" height="2.95" fill="#26a69a"/>
<rect x="637.14" y="340.90" width="2.4" height="2.95" fill="#26a69a"/>
<rect x="640.36" y="340.90" width="2.4" height="2.95" fill="#26a69a"/>
<rect x="643.57" y="340.90" width="2.4" height="2.95" fill="#26a69a"/>
<rect x="646.79" y="340.90" width="2.4" height="2.95" fill="#26a69a"/>
<rect x="650.00" y="341.15" width="2.4" height="2.70" fill="#b2dfdb"/>
<rect x="653.21" y="341.65" width="2.4" height="2.20" fill="#b2dfdb"/>
<rect x="656.43" y="342.40" width="2.4" height="1.45" fill="#b2dfdb"/>
<rect x="659.64" y="342.65" width="2.4" height="1.20" fill="#b2dfdb"/>
<rect x="662.86" y="341.90" width="2.4" height="1.95" fill="#26a69a"/>
<rect x="666.07" y="341.90" width="2.4" height="1.95" fill="#26a69a"/>
<rect x="669.29" y="341.90" width="2.4" height="1.95" fill="#26a69a"/>
<rect x="672.50" y="341.90" width="2.4" height="1.95" fill="#26a69a"/>
<rect x="675.71" y="341.65" width="2.4" height="2.20" fill="#26a69a"/>
<rect x="678.93" y="341.90" width="2.4" height="1.95" fill="#b2dfdb"/>
<rect x="682.14" y="341.65" width="2.4" height="2.20" fill="#26a69a"/>
<rect x="685.36" y="341.65" width="2.4" height="2.20" fill="#26a69a"/>
<rect x="688.57" y="342.15" width="2.4" height="1.70" fill="#b2dfdb"/>
<rect x="691.78" y="342.65" width="2.4" height="1.20" fill="#b2dfdb"/>
<rect x="695.00" y="342.95" width="2.4" height="0.90" fill="#b2dfdb"/>
<rect x="698.21" y="342.95" width="2.4" height="0.90" fill="#b2dfdb"/>
<rect x="701.43" y="342.95" width="2.4" height="0.90" fill="#ffcdd2"/>
<rect x="704.64" y="342.95" width="2.4" height="0.90" fill="#ff5252"/>
<rect x="707.86" y="342.95" width="2.4" height="0.90" fill="#ffcdd2"/>
<path d="M8.00,337.40 L18.75,337.00 L25.00,336.50 L30.00,336.50 L37.50,338.00 L43.75,338.60 L50.00,339.50 L56.25,340.25 L62.50,340.75 L68.75,341.50 L75.00,341.50 L81.25,341.10 L87.50,340.25 L93.75,338.80 L102.50,337.75 L108.75,335.75 L115.00,334.50 L120.00,333.25 L125.00,333.25 L130.00,333.60 L135.00,335.75 L140.00,336.50 L146.25,336.50 L152.50,336.50 L155.00,335.50 L158.75,332.40 L165.00,330.25 L168.10,329.25 L171.25,326.10 L175.00,323.60 L178.75,323.60 L181.00,325.50 L184.40,327.75 L188.10,326.50 L191.90,325.50 L196.25,327.75 L201.25,331.75 L206.25,335.50 L211.25,338.00 L216.25,340.25 L220.00,341.50 L225.00,341.75 L230.00,342.00 L235.00,341.50 L240.00,342.00 L245.00,343.00 L250.00,344.00 L255.00,344.50 L258.75,346.10 L262.50,348.60 L267.50,351.10 L272.50,351.60 L282.50,351.10 L288.75,352.40 L293.75,353.60 L301.25,353.60 L310.00,353.25 L315.00,355.25 L320.00,356.10 L326.25,355.50 L332.50,354.00 L338.75,352.00 L345.00,351.50 L351.25,351.75 L357.50,349.00 L363.75,348.00 L372.50,346.50 L378.75,345.75 L385.00,345.50 L391.25,345.75 L397.50,346.50 L403.75,347.40 L410.00,347.40 L416.25,347.00 L422.50,347.00 L428.75,347.40 L435.00,347.00 L441.25,346.10 L447.50,345.50 L453.75,344.30 L462.50,342.40 L468.75,341.75 L475.00,341.50 L481.25,341.50 L487.50,340.25 L493.75,339.50 L500.00,339.25 L506.25,339.90 L512.50,341.75 L518.75,342.75 L525.00,343.60 L531.25,343.60 L537.50,344.00 L541.00,344.70 L543.75,346.10 L547.50,348.60 L552.50,349.90 L556.25,351.75 L560.00,354.90 L565.00,357.00 L571.25,358.60 L577.50,359.50 L583.75,359.90 L590.00,359.00 L596.25,358.00 L602.50,357.00 L608.75,355.50 L615.00,354.50 L621.25,354.25 L627.50,352.00 L633.75,350.70 L642.50,348.60 L648.75,347.40 L655.00,347.00 L661.25,346.10 L667.50,345.25 L673.75,344.50 L680.00,343.60 L686.25,342.75 L692.50,342.40 L698.75,342.75 L705.00,343.60 L709.00,344.00" stroke="#4676fb" stroke-width="0.9" fill="none" stroke-linejoin="round"/>
<path d="M8.00,338.00 L18.75,337.75 L25.00,337.40 L31.25,337.00 L37.50,337.40 L43.75,337.75 L50.00,338.25 L56.25,339.00 L62.50,339.50 L68.75,340.25 L75.00,340.50 L81.25,340.50 L87.50,340.25 L93.75,339.50 L102.50,338.25 L108.75,337.40 L115.00,336.50 L121.25,335.50 L127.50,334.90 L132.50,334.50 L137.50,335.25 L142.50,335.50 L148.75,335.75 L155.00,335.75 L160.00,334.90 L165.00,333.60 L170.00,332.00 L175.00,329.90 L180.00,328.00 L186.25,327.60 L192.50,326.75 L198.75,327.40 L205.00,329.90 L211.25,332.40 L217.50,334.90 L223.75,337.00 L230.00,338.60 L236.25,339.90 L242.50,340.75 L248.75,341.75 L255.00,342.75 L261.25,344.50 L267.50,346.50 L273.75,348.40 L282.50,349.90 L288.75,350.75 L295.00,351.75 L301.25,352.40 L307.50,352.75 L313.75,353.60 L320.00,354.50 L326.25,354.90 L332.50,354.50 L338.75,354.00 L345.00,353.25 L351.25,352.40 L357.50,351.10 L363.75,349.70 L372.50,348.60 L378.75,347.75 L385.00,347.00 L391.25,346.50 L397.50,346.50 L403.75,346.75 L410.00,347.00 L416.25,347.00 L422.50,347.00 L428.75,347.00 L435.00,347.00 L441.25,346.50 L447.50,346.10 L453.75,345.10 L462.50,343.60 L468.75,342.75 L475.00,342.40 L481.25,342.00 L487.50,341.50 L493.75,340.75 L500.00,340.25 L506.25,340.25 L512.50,340.75 L518.75,341.50 L525.00,342.00 L531.25,342.75 L537.50,343.25 L546.25,345.10 L552.50,347.00 L558.75,348.25 L565.00,350.75 L571.25,353.25 L577.50,355.50 L583.75,357.00 L590.00,358.00 L596.25,358.00 L602.50,357.75 L608.75,357.00 L615.00,356.10 L621.25,355.25 L627.50,354.30 L633.75,353.00 L642.50,351.50 L648.75,349.90 L655.00,348.60 L661.25,348.00 L667.50,347.00 L673.75,346.10 L680.00,345.50 L686.25,344.50 L692.50,344.00 L698.75,343.60 L705.00,343.60 L709.00,343.60" stroke="#fb8028" stroke-width="0.9" fill="none" stroke-linejoin="round"/>
<text x="749.7" y="41.0" fill="#4a4b52" font-size="9.6" font-weight="normal" text-anchor="start" textLength="34.6" lengthAdjust="spacingAndGlyphs">1,300.00</text>
<text x="749.7" y="69.16" fill="#4a4b52" font-size="9.6" font-weight="normal" text-anchor="start" textLength="34.6" lengthAdjust="spacingAndGlyphs">1,200.00</text>
<text x="749.7" y="97.32" fill="#4a4b52" font-size="9.6" font-weight="normal" text-anchor="start" textLength="34.6" lengthAdjust="spacingAndGlyphs">1,100.00</text>
<text x="749.7" y="125.48" fill="#4a4b52" font-size="9.6" font-weight="normal" text-anchor="start" textLength="34.6" lengthAdjust="spacingAndGlyphs">1,000.00</text>
<text x="749.7" y="153.64" fill="#4a4b52" font-size="9.6" font-weight="normal" text-anchor="start" textLength="27.2" lengthAdjust="spacingAndGlyphs">900.00</text>
<text x="749.7" y="181.8" fill="#4a4b52" font-size="9.6" font-weight="normal" text-anchor="start" textLength="27.2" lengthAdjust="spacingAndGlyphs">800.00</text>
<text x="749.7" y="209.96" fill="#4a4b52" font-size="9.6" font-weight="normal" text-anchor="start" textLength="27.2" lengthAdjust="spacingAndGlyphs">700.00</text>
<text x="749.7" y="238.12" fill="#4a4b52" font-size="9.6" font-weight="normal" text-anchor="start" textLength="27.2" lengthAdjust="spacingAndGlyphs">600.00</text>
<text x="749.7" y="266.28" fill="#4a4b52" font-size="9.6" font-weight="normal" text-anchor="start" textLength="27.2" lengthAdjust="spacingAndGlyphs">500.00</text>
<text x="749.7" y="281.2" fill="#4a4b52" font-size="9.6" font-weight="normal" text-anchor="start" textLength="22" lengthAdjust="spacingAndGlyphs">80.00</text>
<clipPath id="c100"><rect x="743" y="319" width="49" height="20"/></clipPath>
<text x="749.7" y="325.2" fill="#4a4b52" font-size="9.6" font-weight="normal" text-anchor="start" textLength="26.6" lengthAdjust="spacingAndGlyphs" clip-path="url(#c100)">100.00</text>
<rect x="742.8" y="216.3" width="37.5" height="12.4" rx="1" fill="#131722"/>
<text x="749.2" y="226.2" fill="#fff" font-size="9.6" font-weight="bold" text-anchor="start" textLength="27.3" lengthAdjust="spacingAndGlyphs">646.59</text>
<rect x="745.5" y="-6" width="44" height="17" rx="2.5" fill="#fff" stroke="#e3e5ec" stroke-width="1"/>
<text x="752" y="5.8" fill="#3c3d44" font-size="9.2" font-weight="normal" text-anchor="start" textLength="16.2" lengthAdjust="spacingAndGlyphs">USD</text>
<text x="56.25" y="378.7" fill="#45464d" font-size="9.4" font-weight="normal" text-anchor="middle" textLength="14.5" lengthAdjust="spacingAndGlyphs">Sep</text>
<text x="152.5" y="378.7" fill="#45464d" font-size="9.4" font-weight="normal" text-anchor="middle" textLength="14" lengthAdjust="spacingAndGlyphs">Oct</text>
<text x="252.1" y="378.7" fill="#45464d" font-size="9.4" font-weight="normal" text-anchor="middle" textLength="15.7" lengthAdjust="spacingAndGlyphs">Nov</text>
<text x="348.7" y="378.7" fill="#45464d" font-size="9.4" font-weight="normal" text-anchor="middle" textLength="14.6" lengthAdjust="spacingAndGlyphs">Dec</text>
<text x="448.8" y="378.7" fill="#2a2b31" font-size="9.4" font-weight="bold" text-anchor="middle" textLength="20.5" lengthAdjust="spacingAndGlyphs">2026</text>
<text x="548" y="378.7" fill="#45464d" font-size="9.4" font-weight="normal" text-anchor="middle" textLength="15" lengthAdjust="spacingAndGlyphs">Feb</text>
<text x="638" y="378.7" fill="#45464d" font-size="9.4" font-weight="normal" text-anchor="middle" textLength="15" lengthAdjust="spacingAndGlyphs">Mar</text>
<clipPath id="capr"><rect x="700" y="366" width="42.2" height="20"/></clipPath>
<text x="731.2" y="378.5" fill="#45464d" font-size="9.4" font-weight="normal" text-anchor="start" textLength="13.4" lengthAdjust="spacingAndGlyphs" clip-path="url(#capr)">Apr</text>
<text x="13.6" y="3.0" fill="#3c3d44" font-size="8.7" font-weight="normal" text-anchor="start" textLength="74.4" lengthAdjust="spacingAndGlyphs">BNB · 1D · CRYPTO</text>
<text x="94.4" y="3.0" fill="#3c3d44" font-size="8.7" font-weight="normal" text-anchor="start" textLength="4.5" lengthAdjust="spacingAndGlyphs">O</text>
<text x="99.6" y="3.0" fill="#2e8b43" font-size="8.7" font-weight="normal" text-anchor="start" textLength="24.4" lengthAdjust="spacingAndGlyphs">626.28</text>
<text x="131" y="3.0" fill="#3c3d44" font-size="8.7" font-weight="normal" text-anchor="start" textLength="4.7" lengthAdjust="spacingAndGlyphs">H</text>
<text x="136.4" y="3.0" fill="#2e8b43" font-size="8.7" font-weight="normal" text-anchor="start" textLength="27.6" lengthAdjust="spacingAndGlyphs">650.31</text>
<text x="171" y="3.0" fill="#3c3d44" font-size="8.7" font-weight="normal" text-anchor="start" textLength="3.6" lengthAdjust="spacingAndGlyphs">L</text>
<text x="175.3" y="3.0" fill="#2e8b43" font-size="8.7" font-weight="normal" text-anchor="start" textLength="29.7" lengthAdjust="spacingAndGlyphs">620.29</text>
<text x="209" y="3.0" fill="#3c3d44" font-size="8.7" font-weight="normal" text-anchor="start" textLength="4.9" lengthAdjust="spacingAndGlyphs">C</text>
<text x="214.6" y="3.0" fill="#2e8b43" font-size="8.7" font-weight="normal" text-anchor="start" textLength="30.4" lengthAdjust="spacingAndGlyphs">646.59</text>
<text x="248" y="3.0" fill="#2e8b43" font-size="8.7" font-weight="normal" text-anchor="start" textLength="24" lengthAdjust="spacingAndGlyphs">+20.31</text>
<text x="276" y="3.0" fill="#2e8b43" font-size="8.7" font-weight="normal" text-anchor="start" textLength="35" lengthAdjust="spacingAndGlyphs">(+3.24%)</text>
<text x="13.5" y="15.35" fill="#45464d" font-size="8.7" font-weight="normal" text-anchor="start" textLength="16.5" lengthAdjust="spacingAndGlyphs">EMA</text>
<text x="35.9" y="15.35" fill="#3468fb" font-size="8.7" font-weight="normal" text-anchor="start" textLength="26.2" lengthAdjust="spacingAndGlyphs">644.71</text>
<text x="13.5" y="28.45" fill="#45464d" font-size="8.7" font-weight="normal" text-anchor="start" textLength="16.5" lengthAdjust="spacingAndGlyphs">EMA</text>
<text x="35.9" y="28.45" fill="#f0652f" font-size="8.7" font-weight="normal" text-anchor="start" textLength="26.4" lengthAdjust="spacingAndGlyphs">672.64</text>
<text x="13.5" y="286.75" fill="#45464d" font-size="8.7" font-weight="normal" text-anchor="start" textLength="12" lengthAdjust="spacingAndGlyphs">RSI</text>
<text x="31" y="286.75" fill="#8560c9" font-size="8.7" font-weight="normal" text-anchor="start" textLength="21" lengthAdjust="spacingAndGlyphs">49.71</text>
<text x="60" y="286.75" fill="#f6d347" font-size="8.7" font-weight="normal" text-anchor="start" textLength="21" lengthAdjust="spacingAndGlyphs">50.96</text>
<text x="13.5" y="332.95" fill="#45464d" font-size="8.7" font-weight="normal" text-anchor="start" textLength="22.5" lengthAdjust="spacingAndGlyphs">MACD</text>
<text x="42" y="332.95" fill="#fbc4c8" font-size="8.7" font-weight="normal" text-anchor="start" textLength="22" lengthAdjust="spacingAndGlyphs">−0.32</text>
<text x="70" y="332.95" fill="#3468fb" font-size="8.7" font-weight="normal" text-anchor="start" textLength="21" lengthAdjust="spacingAndGlyphs">−2.31</text>
<text x="97.75" y="332.95" fill="#fb7a1e" font-size="8.7" font-weight="normal" text-anchor="start" textLength="22" lengthAdjust="spacingAndGlyphs">−1.99</text>
</svg>
</body></html>
